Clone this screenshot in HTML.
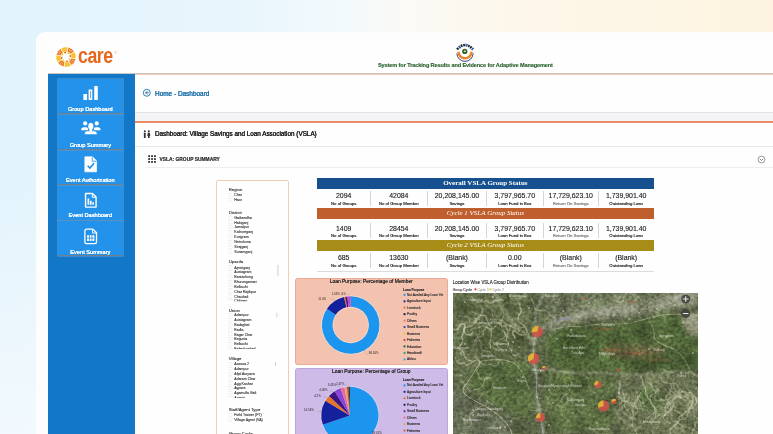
<!DOCTYPE html>
<html>
<head>
<meta charset="utf-8">
<title>VSLA Group Dashboard</title>
<style>
*{margin:0;padding:0;box-sizing:border-box}
html,body{width:773px;height:434px;overflow:hidden}
body{font-family:"Liberation Sans",sans-serif;position:relative;background:#eef5fa;color:#222;opacity:.9999}
.a{position:absolute}
.t{position:absolute;white-space:nowrap;line-height:1}
#bc,#dt,#st{-webkit-text-stroke:.2px currentColor}
#sys{-webkit-text-stroke:.15px #27602a}
.sl{-webkit-text-stroke:.15px #fff}
#bg{left:0;top:0;width:773px;height:434px;background:
 linear-gradient(180deg,rgba(255,255,255,0) 0%,rgba(255,255,255,0) 40%,rgba(255,255,255,.55) 100%),
 linear-gradient(90deg,#e2f3fc 0%,#e7f5fc 30%,#f1f9fd 42%,#fbfaf6 53%,#fdf7ea 66%,#fdf3e0 100%)}
#card{left:36px;top:32px;width:760px;height:420px;background:#fdfdfd;border-radius:9px 0 0 0}
#app{left:48px;top:43px;width:725px;height:391px;background:#fefefe}
#side{left:48px;top:74px;width:86.6px;height:360px;background:#1277c6}
.sb{position:absolute;left:57.6px;width:65.6px;height:34.6px;background:#2392ea;border-bottom:1.1px solid #6f7f8c;box-shadow:0 0 0 .6px #5a9bd6}
.sl{position:absolute;left:47.1px;width:86.5px;text-align:center;font-size:5.65px;color:#fff;line-height:1;white-space:nowrap;text-shadow:0 0 .3px #fff}
.hl{position:absolute;height:1px}
</style>
</head>
<body>
<div id="bg" class="a"></div>
<div id="card" class="a"></div>
<div id="app" class="a"></div>

<!-- header -->
<svg class="a" style="left:53.75px;top:45.1px" width="24" height="24" viewBox="-12 -12 24 24"><g id="carelogo" transform="rotate(12)"><path d="M0.51 -9.79 A9.8 9.8 0 0 1 6.56 -7.28 L3.75 -4.16 A5.6 5.6 0 0 0 0.29 -5.59 Z" fill="#e8711d"/><path d="M0.83 -5.23 A5.3 5.3 0 0 1 3.12 -4.29 L2.17 -2.99 A3.7 3.7 0 0 0 0.58 -3.65 Z" fill="#f6c42e"/><path d="M7.28 -6.56 A9.8 9.8 0 0 1 9.79 -0.51 L5.59 -0.29 A5.6 5.6 0 0 0 4.16 -3.75 Z" fill="#f6c42e"/><path d="M4.29 -3.12 A5.3 5.3 0 0 1 5.23 -0.83 L3.65 -0.58 A3.7 3.7 0 0 0 2.99 -2.17 Z" fill="#e8711d"/><path d="M9.79 0.51 A9.8 9.8 0 0 1 7.28 6.56 L4.16 3.75 A5.6 5.6 0 0 0 5.59 0.29 Z" fill="#e8711d"/><path d="M5.23 0.83 A5.3 5.3 0 0 1 4.29 3.12 L2.99 2.17 A3.7 3.7 0 0 0 3.65 0.58 Z" fill="#f6c42e"/><path d="M6.56 7.28 A9.8 9.8 0 0 1 0.51 9.79 L0.29 5.59 A5.6 5.6 0 0 0 3.75 4.16 Z" fill="#f6c42e"/><path d="M3.12 4.29 A5.3 5.3 0 0 1 0.83 5.23 L0.58 3.65 A3.7 3.7 0 0 0 2.17 2.99 Z" fill="#e8711d"/><path d="M-0.51 9.79 A9.8 9.8 0 0 1 -6.56 7.28 L-3.75 4.16 A5.6 5.6 0 0 0 -0.29 5.59 Z" fill="#e8711d"/><path d="M-0.83 5.23 A5.3 5.3 0 0 1 -3.12 4.29 L-2.17 2.99 A3.7 3.7 0 0 0 -0.58 3.65 Z" fill="#f6c42e"/><path d="M-7.28 6.56 A9.8 9.8 0 0 1 -9.79 0.51 L-5.59 0.29 A5.6 5.6 0 0 0 -4.16 3.75 Z" fill="#f6c42e"/><path d="M-4.29 3.12 A5.3 5.3 0 0 1 -5.23 0.83 L-3.65 0.58 A3.7 3.7 0 0 0 -2.99 2.17 Z" fill="#e8711d"/><path d="M-9.79 -0.51 A9.8 9.8 0 0 1 -7.28 -6.56 L-4.16 -3.75 A5.6 5.6 0 0 0 -5.59 -0.29 Z" fill="#e8711d"/><path d="M-5.23 -0.83 A5.3 5.3 0 0 1 -4.29 -3.12 L-2.99 -2.17 A3.7 3.7 0 0 0 -3.65 -0.58 Z" fill="#f6c42e"/><path d="M-6.56 -7.28 A9.8 9.8 0 0 1 -0.51 -9.79 L-0.29 -5.59 A5.6 5.6 0 0 0 -3.75 -4.16 Z" fill="#f6c42e"/><path d="M-3.12 -4.29 A5.3 5.3 0 0 1 -0.83 -5.23 L-0.58 -3.65 A3.7 3.7 0 0 0 -2.17 -2.99 Z" fill="#e8711d"/><path d="M1.76 -6.36 L2.65 -9.54" stroke="#fdf3e6" stroke-width=".55"/><path d="M3.25 -5.74 L4.87 -8.62" stroke="#fdf3e6" stroke-width=".55"/><path d="M6.36 1.76 L9.54 2.65" stroke="#fdf3e6" stroke-width=".55"/><path d="M5.74 3.25 L8.62 4.87" stroke="#fdf3e6" stroke-width=".55"/><path d="M-1.76 6.36 L-2.65 9.54" stroke="#fdf3e6" stroke-width=".55"/><path d="M-3.25 5.74 L-4.87 8.62" stroke="#fdf3e6" stroke-width=".55"/><path d="M-6.36 -1.76 L-9.54 -2.65" stroke="#fdf3e6" stroke-width=".55"/><path d="M-5.74 -3.25 L-8.62 -4.87" stroke="#fdf3e6" stroke-width=".55"/></g></svg>
<div class="t" style="left:77.8px;top:45.9px;font-size:21.4px;font-weight:bold;color:#e4691e;letter-spacing:-.6px;transform:scaleX(.83);transform-origin:0 0">care</div>
<div class="t" style="left:114.6px;top:52px;font-size:3px;color:#e8731f">®</div>

<svg class="a" style="left:454px;top:41.9px" width="22" height="20" viewBox="0 0 22 20">
 <path d="M2.9 10.4 A8.1 8.1 0 0 0 19.1 10.4" fill="none" stroke="#2a2a6a" stroke-width=".9" transform="translate(0 .9)"/>
 <path d="M3.2 9.8 A7.8 7.8 0 0 0 18.8 9.8 L16.3 9.8 A5.3 5.3 0 0 1 5.7 9.8 Z" fill="#ea8628"/>
 <circle cx="10.8" cy="9.4" r="2.6" fill="#35602a"/>
 <circle cx="10.9" cy="9.3" r="1" fill="#c9dcae"/>
 <path d="M3 7.4 Q11 -1.3 19 7.4" fill="none" stroke="#1b1b2a" stroke-width="2.5" stroke-dasharray="1.7 .8"/>
 <path d="M3 7.4 Q11 -1.3 19 7.4" fill="none" stroke="#2f6fc0" stroke-width="2.5" stroke-dasharray="1.7 5.8" stroke-dashoffset="-2.5"/>
</svg>
<div class="t" id="sys" style="left:377.5px;top:61.6px;font-size:6.2px;font-weight:bold;color:#27602a;letter-spacing:-.12px;transform:scaleX(.9);transform-origin:0 0">System for Tracking Results and Evidence for Adaptive Management</div>

<div class="hl" style="left:48px;top:72.8px;width:725px;height:1.8px;background:linear-gradient(180deg,#cfc9c6 0%,#d2c2ba 45%,#efc4b0 55%,#f3d3c4 100%)"></div>

<!-- sidebar -->
<div id="side" class="a"></div>

<div class="sb" style="top:79px"></div>
<svg class="a" style="left:77.8px;top:83.1px" width="26" height="20.8" viewBox="-10 -8 20 16"><rect x="-5.85" y=".46" width="2.85" height="4.62" rx=".35" fill="#fff"/><rect x="-1.85" y="-3.08" width="2.85" height="8.16" rx=".35" fill="#fff"/><rect x="-.75" y="-1.9" width=".5" height="5.8" fill="#2a7fd0"/><rect x="2.46" y="-5.7" width="2.8" height="10.78" rx=".35" fill="#fff"/></svg>
<div class="sl" style="top:106.7px">Group Dashboard</div>
<div class="sb" style="top:115px"></div>
<svg class="a" style="left:77.8px;top:118.3px" width="26" height="20.8" viewBox="-10 -8 20 16"><circle cx="-4.46" cy="-3.85" r="1.6" fill="#fff"/><circle cx="4.4" cy="-3.85" r="1.6" fill="#fff"/><path d="M-7.6 1.45 Q-7.6 -.9 -5.4 -.9 H-3.6 Q-2.2 -.9 -2.2 1.45 Z" fill="#fff"/><path d="M7.4 1.45 Q7.4 -.9 5.3 -.9 H3.5 Q2.1 -.9 2.1 1.45 Z" fill="#fff"/><ellipse cx="-.15" cy="-1.7" rx="2.05" ry="2.6" fill="#fff" stroke="#2392ea" stroke-width=".8"/><path d="M-5.2 4.9 Q-5.2 1.8 -2.6 1.8 H2.3 Q4.9 1.8 4.9 4.9 Z" fill="#fff" stroke="#2392ea" stroke-width=".7"/><ellipse cx="-.15" cy="-1.6" rx="1.95" ry="2.6" fill="#fff"/><rect x="-1.15" y=".4" width="2" height="2" fill="#fff"/></svg>
<div class="sl" style="top:142.7px">Group Summary</div>
<div class="sb" style="top:150.8px"></div>
<svg class="a" style="left:79.1px;top:154.65px" width="23.4" height="18.7" viewBox="-10 -8 20 16"><path d="M-5 -6.4 H1.6 L5 -3 V6.4 H-5 Z" fill="#fff" stroke="#fff" stroke-width=".6" stroke-linejoin="round"/><path d="M1.3 -6.2 V-2.7 H4.9" fill="none" stroke="#2392ea" stroke-width=".7"/><path d="M-2.6 1.2 L-.7 3.1 L2.9 -1" fill="none" stroke="#2290ea" stroke-width="1.4"/></svg>
<div class="sl" style="top:177.9px">Event Authorization</div>
<div class="sb" style="top:186.2px;height:34.5px"></div>
<svg class="a" style="left:79.1px;top:190.65px" width="23.4" height="18.7" viewBox="-10 -8 20 16"><path d="M-4.4 -5.8 H1.6 L4.6 -2.8 V5.8 H-4.4 Z" fill="none" stroke="#fff" stroke-width="1.2" stroke-linejoin="round"/><path d="M1.4 -5.8 V-2.6 H4.6" fill="none" stroke="#fff" stroke-width=".9"/><rect x="-2.7" y="-1.6" width="1.5" height="5.4" fill="#fff"/><rect x="-.6" y=".4" width="1.4" height="3.4" fill="#fff"/><rect x="1.4" y="1.6" width="1.4" height="2.2" fill="#fff"/></svg>
<div class="sl" style="top:213.1px">Event Dashboard</div>
<div class="sb" style="top:221.2px;height:34.4px"></div>
<svg class="a" style="left:79.1px;top:226.65px" width="23.4" height="18.7" viewBox="-10 -8 20 16"><path d="M-3.4 -6.2 H1.8 L5 -3 V4.6 Q5 6.2 3.4 6.2 H-3.4 Q-5 6.2 -5 4.6 V-4.6 Q-5 -6.2 -3.4 -6.2 Z" fill="none" stroke="#fff" stroke-width="1.1"/><path d="M1.6 -6 V-2.8 H4.8" fill="none" stroke="#fff" stroke-width=".8"/><rect x="-3.2" y="-1" width="6.4" height="5" rx=".6" fill="#fff"/><path d="M-3.2 1.5 H3.2 M-1.05 -1 V4 M1.05 -1 V4" stroke="#2392ea" stroke-width=".7"/></svg>
<div class="sl" style="top:249.9px">Event Summary</div>

<!-- main lines -->
<div class="hl" style="left:135px;top:112.3px;width:638px;background:#e3e3e6"></div>
<div class="a" style="left:135px;top:113.3px;width:638px;height:8px;background:#f4f4f6"></div>
<div class="hl" style="left:135px;top:120.6px;width:638px;height:2px;background:#e98c64"></div>
<div class="hl" style="left:135px;top:146.3px;width:638px;background:#e9e9ec"></div>
<div class="hl" style="left:146px;top:167.2px;width:627px;background:#eeeef0"></div>


<!-- breadcrumb -->
<svg class="a" style="left:141.9px;top:88.2px" width="9.6" height="9.6" viewBox="-4 -4 8 8"><circle r="2.9" fill="none" stroke="#2a78ad" stroke-width=".8"/><path d="M.4 -1.4 L-1 0 L.4 1.4 M-1 0 H1.7" fill="none" stroke="#2a78ad" stroke-width=".8"/></svg>
<div class="t" id="bc" style="left:155px;top:90.7px;font-size:6.45px;color:#2273ab;text-shadow:0 0 .35px #2273ab">Home - Dashboard</div>
<!-- dashboard title -->
<svg class="a" style="left:142.7px;top:130.2px" width="8" height="9" viewBox="0 0 8 9"><circle cx="1.8" cy="1.3" r="1" fill="#333"/><rect x=".9" y="2.7" width="1.8" height="5.4" rx=".5" fill="#333"/><circle cx="5.8" cy="1.3" r="1" fill="#333"/><path d="M4.7 2.7 H6.9 L7.3 6 H6.6 V8.1 H5 V6 H4.3 Z" fill="#333"/></svg>
<div class="t" id="dt" style="left:155px;top:131.1px;font-size:6.34px;color:#222;text-shadow:0 0 .3px #222">Dashboard: Village Savings and Loan Association (VSLA)</div>
<!-- section title -->
<svg class="a" style="left:147.6px;top:155.3px" width="8.6" height="8.6" viewBox="0 0 8 8"><g fill="#333"><rect x=".2" y=".2" width="1.7" height="1.7"/><rect x="2.9" y=".2" width="1.7" height="1.7"/><rect x="5.6" y=".2" width="1.7" height="1.7"/><rect x=".2" y="2.9" width="1.7" height="1.7"/><rect x="2.9" y="2.9" width="1.7" height="1.7"/><rect x="5.6" y="2.9" width="1.7" height="1.7"/><rect x=".2" y="5.6" width="1.7" height="1.7"/><rect x="2.9" y="5.6" width="1.7" height="1.7"/><rect x="5.6" y="5.6" width="1.7" height="1.7"/></g></svg>
<div class="t" id="st" style="left:159.5px;top:157.5px;font-size:4.9px;font-weight:bold;color:#2a2a2a">VSLA: GROUP SUMMARY</div>
<svg class="a" style="left:756.5px;top:154.5px" width="9" height="9" viewBox="-4.5 -4.5 9 9"><circle r="3.4" fill="none" stroke="#555" stroke-width=".6"/><path d="M-1.6 -.6 L0 1 L1.6 -.6" fill="none" stroke="#555" stroke-width=".7"/></svg>


<!-- table -->
<style>.bar{position:absolute;left:317px;width:336.7px;color:#fff;font-family:"Liberation Serif",serif;font-size:7px;text-align:center;white-space:nowrap}.num{position:absolute;text-align:center;font-size:6.95px;color:#1a1a1a;line-height:1;white-space:nowrap;text-shadow:0 0 .12px #222}.lab{position:absolute;text-align:center;font-size:4.2px;color:#222;line-height:1;white-space:nowrap;text-shadow:0 0 .3px currentColor}.vs{position:absolute;width:.8px;background:#d4d4d4}</style>
<div class="bar" style="top:177.8px;height:11.1px;line-height:11.1px;background:#16508f;font-weight:bold">Overall VSLA Group Status</div>






<div class="vs" style="left:370.0px;top:191.2px;height:14.5px"></div><div class="vs" style="left:426.9px;top:191.2px;height:14.5px"></div><div class="vs" style="left:486.2px;top:191.2px;height:14.5px"></div><div class="vs" style="left:542.6px;top:191.2px;height:14.5px"></div><div class="vs" style="left:598.2px;top:191.2px;height:14.5px"></div>
<div class="bar" style="top:208.3px;height:11.0px;line-height:11.0px;background:#bf5f2d;font-style:italic">Cycle 1 VSLA Group Status</div>






<div class="vs" style="left:370.0px;top:223px;height:14.8px"></div><div class="vs" style="left:426.9px;top:223px;height:14.8px"></div><div class="vs" style="left:486.2px;top:223px;height:14.8px"></div><div class="vs" style="left:542.6px;top:223px;height:14.8px"></div><div class="vs" style="left:598.2px;top:223px;height:14.8px"></div>
<div class="bar" style="top:239.9px;height:11.6px;line-height:11.6px;background:#a78c18;font-style:italic">Cycle 2 VSLA Group Status</div>






<div class="vs" style="left:370.0px;top:253.3px;height:15.0px"></div><div class="vs" style="left:426.9px;top:253.3px;height:15.0px"></div><div class="vs" style="left:486.2px;top:253.3px;height:15.0px"></div><div class="vs" style="left:542.6px;top:253.3px;height:15.0px"></div><div class="vs" style="left:598.2px;top:253.3px;height:15.0px"></div>
<svg class="a" style="left:316px;top:198px" width="340" height="72" viewBox="316 198 340 72" font-family="Liberation Sans, sans-serif" font-size="4.25" text-anchor="middle">
<text x="343.70" y="204.92" fill="#222" stroke="#222" stroke-width=".16">No of Groups</text><text x="398.85" y="204.92" fill="#222" stroke="#222" stroke-width=".16">No of Group Member</text><text x="456.95" y="204.92" fill="#222" stroke="#222" stroke-width=".17">Savings</text><text x="514.80" y="204.92" fill="#222" stroke="#222" stroke-width=".17">Loan Fund in Box</text><text x="570.80" y="204.92" fill="#777" stroke="#777" stroke-width=".17">Return On Savings</text><text x="626.15" y="204.92" fill="#222" stroke="#222" stroke-width=".17">Outstanding Loan</text>
<text x="343.70" y="237.32" fill="#222" stroke="#222" stroke-width=".16">No of Groups</text><text x="398.85" y="237.32" fill="#222" stroke="#222" stroke-width=".16">No of Group Member</text><text x="456.95" y="237.32" fill="#222" stroke="#222" stroke-width=".17">Savings</text><text x="514.80" y="237.32" fill="#222" stroke="#222" stroke-width=".17">Loan Fund in Box</text><text x="570.80" y="237.32" fill="#777" stroke="#777" stroke-width=".17">Return On Savings</text><text x="626.15" y="237.32" fill="#222" stroke="#222" stroke-width=".17">Outstanding Loan</text>
<text x="343.70" y="267.02" fill="#222" stroke="#222" stroke-width=".16">No of Groups</text><text x="398.85" y="267.02" fill="#222" stroke="#222" stroke-width=".16">No of Group Member</text><text x="456.95" y="267.02" fill="#222" stroke="#222" stroke-width=".17">Savings</text><text x="514.80" y="267.02" fill="#222" stroke="#222" stroke-width=".17">Loan Fund in Box</text><text x="570.80" y="267.02" fill="#777" stroke="#777" stroke-width=".17">Return On Savings</text><text x="626.15" y="267.02" fill="#222" stroke="#222" stroke-width=".17">Outstanding Loan</text>
</svg>
<svg class="a" style="left:316px;top:188px" width="340" height="76" viewBox="316 188 340 76" font-family="Liberation Sans, sans-serif" font-size="6.95" text-anchor="middle" fill="#1a1a1a">
<text x="343.70" y="198.39" stroke="#1a1a1a" stroke-width=".12">2094</text><text x="398.85" y="198.39" stroke="#1a1a1a" stroke-width=".12">42084</text><text x="456.95" y="198.39" stroke="#1a1a1a" stroke-width=".12">20,208,145.00</text><text x="514.80" y="198.39" stroke="#1a1a1a" stroke-width=".12">3,797,965.70</text><text x="570.80" y="198.39" stroke="#1a1a1a" stroke-width=".12">17,729,623.10</text><text x="626.15" y="198.39" stroke="#1a1a1a" stroke-width=".12">1,739,901.40</text>
<text x="343.70" y="230.69" stroke="#1a1a1a" stroke-width=".12">1409</text><text x="398.85" y="230.69" stroke="#1a1a1a" stroke-width=".12">28454</text><text x="456.95" y="230.69" stroke="#1a1a1a" stroke-width=".12">20,208,145.00</text><text x="514.80" y="230.69" stroke="#1a1a1a" stroke-width=".12">3,797,965.70</text><text x="570.80" y="230.69" stroke="#1a1a1a" stroke-width=".12">17,729,623.10</text><text x="626.15" y="230.69" stroke="#1a1a1a" stroke-width=".12">1,739,901.40</text>
<text x="343.70" y="259.99" stroke="#1a1a1a" stroke-width=".12">685</text><text x="398.85" y="259.99" stroke="#1a1a1a" stroke-width=".12">13630</text><text x="456.95" y="259.99" stroke="#1a1a1a" stroke-width=".12">(Blank)</text><text x="514.80" y="259.99" stroke="#1a1a1a" stroke-width=".12">0.00</text><text x="570.80" y="259.99" stroke="#1a1a1a" stroke-width=".12">(Blank)</text><text x="626.15" y="259.99" stroke="#1a1a1a" stroke-width=".12">(Blank)</text>
</svg>
<div class="hl" style="left:317px;top:270.6px;width:336.7px;background:#dcdcdc"></div>


<!-- filter panel -->
<div class="a" style="left:216.4px;top:180.3px;width:72.2px;height:270px;border:1.2px solid #f2cbb5;border-radius:2px;background:#fefefe"></div>
<svg class="a" style="left:216px;top:178px" width="76" height="256" viewBox="216 178 76 256" font-family="Liberation Sans, sans-serif">
<text x="228.7" y="190.93" font-size="4.3" fill="#222" stroke="#222" stroke-width=".08">Region</text>
<rect x="228.9" y="193.30" width="3.1" height="3.1" fill="#fff" stroke="#dcdcdc" stroke-width=".35"/><text x="234.3" y="196.00" font-size="3.55" fill="#333" stroke="#333" stroke-width=".1">Char</text>
<rect x="228.9" y="198.14" width="3.1" height="3.1" fill="#fff" stroke="#dcdcdc" stroke-width=".35"/><text x="234.3" y="200.84" font-size="3.55" fill="#333" stroke="#333" stroke-width=".1">Haor</text>
<text x="228.7" y="214.03" font-size="4.3" fill="#222" stroke="#222" stroke-width=".08">District</text>
<rect x="228.9" y="216.10" width="3.1" height="3.1" fill="#fff" stroke="#dcdcdc" stroke-width=".35"/><text x="234.3" y="218.80" font-size="3.55" fill="#333" stroke="#333" stroke-width=".1">Gaibandha</text>
<rect x="228.9" y="220.94" width="3.1" height="3.1" fill="#fff" stroke="#dcdcdc" stroke-width=".35"/><text x="234.3" y="223.64" font-size="3.55" fill="#333" stroke="#333" stroke-width=".1">Habiganj</text>
<rect x="228.9" y="225.78" width="3.1" height="3.1" fill="#fff" stroke="#dcdcdc" stroke-width=".35"/><text x="234.3" y="228.48" font-size="3.55" fill="#333" stroke="#333" stroke-width=".1">Jamalpur</text>
<rect x="228.9" y="230.62" width="3.1" height="3.1" fill="#fff" stroke="#dcdcdc" stroke-width=".35"/><text x="234.3" y="233.32" font-size="3.55" fill="#333" stroke="#333" stroke-width=".1">Kishoreganj</text>
<rect x="228.9" y="235.46" width="3.1" height="3.1" fill="#fff" stroke="#dcdcdc" stroke-width=".35"/><text x="234.3" y="238.16" font-size="3.55" fill="#333" stroke="#333" stroke-width=".1">Kurigram</text>
<rect x="228.9" y="240.30" width="3.1" height="3.1" fill="#fff" stroke="#dcdcdc" stroke-width=".35"/><text x="234.3" y="243.00" font-size="3.55" fill="#333" stroke="#333" stroke-width=".1">Netrokona</text>
<rect x="228.9" y="245.14" width="3.1" height="3.1" fill="#fff" stroke="#dcdcdc" stroke-width=".35"/><text x="234.3" y="247.84" font-size="3.55" fill="#333" stroke="#333" stroke-width=".1">Sirajganj</text>
<rect x="228.9" y="249.98" width="3.1" height="3.1" fill="#fff" stroke="#dcdcdc" stroke-width=".35"/><text x="234.3" y="252.68" font-size="3.55" fill="#333" stroke="#333" stroke-width=".1">Sunamganj</text>
<text x="228.7" y="263.33" font-size="4.3" fill="#222" stroke="#222" stroke-width=".08">Upazila</text>
<rect x="228.9" y="265.80" width="3.1" height="3.1" fill="#fff" stroke="#dcdcdc" stroke-width=".35"/><text x="234.3" y="268.50" font-size="3.55" fill="#333" stroke="#333" stroke-width=".1">Ajmiriganj</text>
<rect x="228.9" y="270.64" width="3.1" height="3.1" fill="#fff" stroke="#dcdcdc" stroke-width=".35"/><text x="234.3" y="273.34" font-size="3.55" fill="#333" stroke="#333" stroke-width=".1">Austagram</text>
<rect x="228.9" y="275.48" width="3.1" height="3.1" fill="#fff" stroke="#dcdcdc" stroke-width=".35"/><text x="234.3" y="278.18" font-size="3.55" fill="#333" stroke="#333" stroke-width=".1">Baniachong</text>
<rect x="228.9" y="280.32" width="3.1" height="3.1" fill="#fff" stroke="#dcdcdc" stroke-width=".35"/><text x="234.3" y="283.02" font-size="3.55" fill="#333" stroke="#333" stroke-width=".1">Bhurungamari</text>
<rect x="228.9" y="285.16" width="3.1" height="3.1" fill="#fff" stroke="#dcdcdc" stroke-width=".35"/><text x="234.3" y="287.86" font-size="3.55" fill="#333" stroke="#333" stroke-width=".1">Belkuchi</text>
<rect x="228.9" y="290.00" width="3.1" height="3.1" fill="#fff" stroke="#dcdcdc" stroke-width=".35"/><text x="234.3" y="292.70" font-size="3.55" fill="#333" stroke="#333" stroke-width=".1">Char Rajibpur</text>
<rect x="228.9" y="294.84" width="3.1" height="3.1" fill="#fff" stroke="#dcdcdc" stroke-width=".35"/><text x="234.3" y="297.54" font-size="3.55" fill="#333" stroke="#333" stroke-width=".1">Chauhali</text>
<clipPath id="fc1"><rect x="226" y="298.28" width="60" height="3.0"/></clipPath><g clip-path="url(#fc1)"><rect x="228.9" y="299.68" width="3.1" height="3.1" fill="#fff" stroke="#dcdcdc" stroke-width=".35"/><text x="234.3" y="302.38" font-size="3.55" fill="#333" stroke="#333" stroke-width=".1">Chilmari</text></g>
<text x="228.7" y="311.53" font-size="4.3" fill="#222" stroke="#222" stroke-width=".08">Union</text>
<rect x="228.9" y="313.30" width="3.1" height="3.1" fill="#fff" stroke="#dcdcdc" stroke-width=".35"/><text x="234.3" y="316.00" font-size="3.55" fill="#333" stroke="#333" stroke-width=".1">Adampur</text>
<rect x="228.9" y="318.18" width="3.1" height="3.1" fill="#fff" stroke="#dcdcdc" stroke-width=".35"/><text x="234.3" y="320.88" font-size="3.55" fill="#333" stroke="#333" stroke-width=".1">Austagram</text>
<rect x="228.9" y="323.06" width="3.1" height="3.1" fill="#fff" stroke="#dcdcdc" stroke-width=".35"/><text x="234.3" y="325.76" font-size="3.55" fill="#333" stroke="#333" stroke-width=".1">Badaghat</text>
<rect x="228.9" y="327.94" width="3.1" height="3.1" fill="#fff" stroke="#dcdcdc" stroke-width=".35"/><text x="234.3" y="330.64" font-size="3.55" fill="#333" stroke="#333" stroke-width=".1">Badla</text>
<rect x="228.9" y="332.82" width="3.1" height="3.1" fill="#fff" stroke="#dcdcdc" stroke-width=".35"/><text x="234.3" y="335.52" font-size="3.55" fill="#333" stroke="#333" stroke-width=".1">Bagar Char</text>
<rect x="228.9" y="337.70" width="3.1" height="3.1" fill="#fff" stroke="#dcdcdc" stroke-width=".35"/><text x="234.3" y="340.40" font-size="3.55" fill="#333" stroke="#333" stroke-width=".1">Begunia</text>
<rect x="228.9" y="342.58" width="3.1" height="3.1" fill="#fff" stroke="#dcdcdc" stroke-width=".35"/><text x="234.3" y="345.28" font-size="3.55" fill="#333" stroke="#333" stroke-width=".1">Belkuchi</text>
<clipPath id="fc2"><rect x="226" y="346.06" width="60" height="3.0"/></clipPath><g clip-path="url(#fc2)"><rect x="228.9" y="347.46" width="3.1" height="3.1" fill="#fff" stroke="#dcdcdc" stroke-width=".35"/><text x="234.3" y="350.16" font-size="3.55" fill="#333" stroke="#333" stroke-width=".1">Bahadurabad</text></g>
<text x="228.7" y="360.43" font-size="4.3" fill="#222" stroke="#222" stroke-width=".08">Village</text>
<rect x="228.9" y="362.50" width="3.1" height="3.1" fill="#fff" stroke="#dcdcdc" stroke-width=".35"/><text x="234.3" y="365.20" font-size="3.55" fill="#333" stroke="#333" stroke-width=".1">Asasua 2</text>
<rect x="228.9" y="367.35" width="3.1" height="3.1" fill="#fff" stroke="#dcdcdc" stroke-width=".35"/><text x="234.3" y="370.05" font-size="3.55" fill="#333" stroke="#333" stroke-width=".1">Adampur</text>
<rect x="228.9" y="372.20" width="3.1" height="3.1" fill="#fff" stroke="#dcdcdc" stroke-width=".35"/><text x="234.3" y="374.90" font-size="3.55" fill="#333" stroke="#333" stroke-width=".1">Afjal Aurpara</text>
<rect x="228.9" y="377.05" width="3.1" height="3.1" fill="#fff" stroke="#dcdcdc" stroke-width=".35"/><text x="234.3" y="379.75" font-size="3.55" fill="#333" stroke="#333" stroke-width=".1">Adaram Char</text>
<rect x="228.9" y="381.90" width="3.1" height="3.1" fill="#fff" stroke="#dcdcdc" stroke-width=".35"/><text x="234.3" y="384.60" font-size="3.55" fill="#333" stroke="#333" stroke-width=".1">Agg Kashar</text>
<rect x="228.9" y="386.75" width="3.1" height="3.1" fill="#fff" stroke="#dcdcdc" stroke-width=".35"/><text x="234.3" y="389.45" font-size="3.55" fill="#333" stroke="#333" stroke-width=".1">Aypara</text>
<rect x="228.9" y="391.60" width="3.1" height="3.1" fill="#fff" stroke="#dcdcdc" stroke-width=".35"/><text x="234.3" y="394.30" font-size="3.55" fill="#333" stroke="#333" stroke-width=".1">Agamulla Gali</text>
<clipPath id="fc3"><rect x="226" y="395.05" width="60" height="3.0"/></clipPath><g clip-path="url(#fc3)"><rect x="228.9" y="396.45" width="3.1" height="3.1" fill="#fff" stroke="#dcdcdc" stroke-width=".35"/><text x="234.3" y="399.15" font-size="3.55" fill="#333" stroke="#333" stroke-width=".1">Azimiri</text></g>
<text x="228.7" y="411.23" font-size="4.3" fill="#222" stroke="#222" stroke-width=".08">Staff/Agent Type</text>
<rect x="228.9" y="413.30" width="3.1" height="3.1" fill="#fff" stroke="#dcdcdc" stroke-width=".35"/><text x="234.3" y="416.00" font-size="3.55" fill="#333" stroke="#333" stroke-width=".1">Field Trainer (FT)</text>
<rect x="228.9" y="418.14" width="3.1" height="3.1" fill="#fff" stroke="#dcdcdc" stroke-width=".35"/><text x="234.3" y="420.84" font-size="3.55" fill="#333" stroke="#333" stroke-width=".1">Village Agent (VA)</text>
<text x="228.7" y="435.03" font-size="4.3" fill="#222" stroke="#222" stroke-width=".08">Group Cycle</text>
<rect x="228.9" y="437.10" width="3.1" height="3.1" fill="#fff" stroke="#dcdcdc" stroke-width=".35"/><text x="234.3" y="439.80" font-size="3.55" fill="#333" stroke="#333" stroke-width=".1">Cycle 1</text>
<rect x="277.3" y="264.7" width="1.2" height="11.7" rx=".6" fill="#d6d6d6"/><rect x="276.4" y="312.7" width=".9" height="4.6" fill="#cfcfcf"/><rect x="275.2" y="362" width=".8" height="3.9" fill="#e0b4ba"/>
</svg>

<!-- charts -->
<style>.lg{position:absolute;left:406.8px;font-size:3.75px;color:#222;line-height:1;white-space:nowrap;text-shadow:0 0 .25px #222;transform:scaleX(.865);transform-origin:0 50%}.ld{position:absolute;left:403.4px;width:2.3px;height:2.3px;border-radius:50%}.pl{position:absolute;font-size:2.9px;color:#1f1f1f;line-height:1;white-space:nowrap}</style>
<div class="a" style="left:295px;top:277.6px;width:152.6px;height:87.9px;background:#f4c3b0;border:.7px solid #e9ab93;border-radius:2.5px"></div>
<div class="t" style="left:295px;width:152.6px;text-align:center;top:279.5px;font-size:4.9px;color:#222;text-shadow:0 0 .2px #222">Loan Purpose: Percentage of Member</div>
<svg class="a" style="left:295px;top:277px" width="153" height="90" viewBox="295 277 153 90"><circle cx="350.7" cy="325.0" r="29" fill="none" stroke="#fbe3d8" stroke-width="1"/><circle cx="350.7" cy="325.0" r="17.9" fill="none" stroke="#fbe3d8" stroke-width=".8"/><path d="M350.70 296.20 A28.8 28.8 0 1 1 326.97 308.69 L335.70 314.69 A18.2 18.2 0 1 0 350.70 306.80 Z" fill="#1c95ef"/><path d="M326.97 308.69 A28.8 28.8 0 0 1 343.98 297.00 L346.45 307.30 A18.2 18.2 0 0 0 335.70 314.69 Z" fill="#15209c"/><path d="M343.98 297.00 A28.8 28.8 0 0 1 345.11 296.75 L347.16 307.15 A18.2 18.2 0 0 0 346.45 307.30 Z" fill="#e8742a"/><path d="M345.11 296.75 A28.8 28.8 0 0 1 347.29 296.40 L348.55 306.93 A18.2 18.2 0 0 0 347.16 307.15 Z" fill="#4a1a80"/><path d="M347.29 296.40 A28.8 28.8 0 0 1 350.70 296.20 L350.70 306.80 A18.2 18.2 0 0 0 348.55 306.93 Z" fill="#b54fd0"/><path d="M335 300.2 L332.6 299 H330.2 M349.4 296.2 L348.8 294.2 H347 M364.5 350.6 L366 353.9 H367.6" fill="none" stroke="#8a8a8a" stroke-width=".3"/></svg>
<div class="pl" style="left:318.2px;top:297.5px">11.4%</div><div class="pl" style="left:331.7px;top:292.5px">1.03%</div><div class="pl" style="left:340.8px;top:292.5px">.6%</div><div class="pl" style="left:368.8px;top:352.2px">86.56%</div>
<svg class="a" style="left:403.0px;top:286.50px;overflow:visible" width="50" height="6"><text x="0" y="4.13" font-size="3.7" font-weight="bold" fill="#222" stroke="#222" stroke-width=".12" transform="scale(.865,1)">Loan Purpose</text></svg>
<svg class="a" style="left:406.8px;top:291.85px;overflow:visible" width="50" height="6"><text x="0" y="4.17" font-size="3.75"  fill="#222" stroke="#222" stroke-width=".12" transform="scale(.865,1)">Not Availed Any Loan Yet</text></svg><svg class="a" style="left:406.8px;top:298.31px;overflow:visible" width="50" height="6"><text x="0" y="4.17" font-size="3.75"  fill="#222" stroke="#222" stroke-width=".12" transform="scale(.865,1)">Agriculture Input</text></svg><svg class="a" style="left:406.8px;top:304.77px;overflow:visible" width="50" height="6"><text x="0" y="4.17" font-size="3.75"  fill="#222" stroke="#222" stroke-width=".12" transform="scale(.865,1)">Livestock</text></svg><svg class="a" style="left:406.8px;top:311.23px;overflow:visible" width="50" height="6"><text x="0" y="4.17" font-size="3.75"  fill="#222" stroke="#222" stroke-width=".12" transform="scale(.865,1)">Poultry</text></svg><svg class="a" style="left:406.8px;top:317.69px;overflow:visible" width="50" height="6"><text x="0" y="4.17" font-size="3.75"  fill="#222" stroke="#222" stroke-width=".12" transform="scale(.865,1)">Others</text></svg><svg class="a" style="left:406.8px;top:324.15px;overflow:visible" width="50" height="6"><text x="0" y="4.17" font-size="3.75"  fill="#222" stroke="#222" stroke-width=".12" transform="scale(.865,1)">Small Business</text></svg><svg class="a" style="left:406.8px;top:330.61px;overflow:visible" width="50" height="6"><text x="0" y="4.17" font-size="3.75"  fill="#222" stroke="#222" stroke-width=".12" transform="scale(.865,1)">Business</text></svg><svg class="a" style="left:406.8px;top:337.07px;overflow:visible" width="50" height="6"><text x="0" y="4.17" font-size="3.75"  fill="#222" stroke="#222" stroke-width=".12" transform="scale(.865,1)">Fisheries</text></svg><svg class="a" style="left:406.8px;top:343.53px;overflow:visible" width="50" height="6"><text x="0" y="4.17" font-size="3.75"  fill="#222" stroke="#222" stroke-width=".12" transform="scale(.865,1)">Education</text></svg><svg class="a" style="left:406.8px;top:349.99px;overflow:visible" width="50" height="6"><text x="0" y="4.17" font-size="3.75"  fill="#222" stroke="#222" stroke-width=".12" transform="scale(.865,1)">Handicraft</text></svg><svg class="a" style="left:406.8px;top:356.45px;overflow:visible" width="50" height="6"><text x="0" y="4.17" font-size="3.75"  fill="#222" stroke="#222" stroke-width=".12" transform="scale(.865,1)">Akhoc</text></svg>
<div class="a" style="left:295px;top:368.2px;width:152.6px;height:80px;background:#cfbbe8;border:.7px solid #bda5dc;border-radius:2.5px"></div>
<div class="t" style="left:295px;width:152.6px;text-align:center;top:369.6px;font-size:4.9px;color:#222;text-shadow:0 0 .2px #222">Loan Purpose: Percentage of Group</div>
<svg class="a" style="left:295px;top:368.5px" width="153" height="66" viewBox="295 368 153 66"><circle cx="349.9" cy="414.4" r="29.2" fill="#e6dcf3"/><path d="M349.9 414.4 L349.90 385.80 A28.6 28.6 0 1 1 322.86 423.71 Z" fill="#1c95ef"/><path d="M349.9 414.4 L322.86 423.71 A28.6 28.6 0 0 1 325.39 399.67 Z" fill="#15209c"/><path d="M349.9 414.4 L325.39 399.67 A28.6 28.6 0 0 1 328.98 394.89 Z" fill="#e8742a"/><path d="M349.9 414.4 L328.98 394.89 A28.6 28.6 0 0 1 334.74 390.15 Z" fill="#3c1580"/><path d="M349.9 414.4 L334.74 390.15 A28.6 28.6 0 0 1 340.59 387.36 Z" fill="#8a44d8"/><path d="M349.9 414.4 L340.59 387.36 A28.6 28.6 0 0 1 344.44 386.33 Z" fill="#e86aa0"/><path d="M349.9 414.4 L344.44 386.33 A28.6 28.6 0 0 1 346.91 385.96 Z" fill="#f0a070"/><path d="M349.9 414.4 L346.91 385.96 A28.6 28.6 0 0 1 348.65 385.83 Z" fill="#a0522d"/><path d="M349.9 414.4 L348.65 385.83 A28.6 28.6 0 0 1 349.90 385.80 Z" fill="#222"/><path d="M321.6 410.5 H317 M328.5 396.6 L326 396.2 H323.2 M334 391 L331.8 390.2 H329.4 M340.6 387.4 L339 385.2 H337.3 M347 386.4 L346.6 384.4 H345.2" fill="none" stroke="#888" stroke-width=".3"/></svg>
<div class="pl" style="left:304px;top:409.4px">14.56%</div><div class="pl" style="left:314.2px;top:394.7px">4.2%</div><div class="pl" style="left:319.3px;top:388.7px">4.08%</div><div class="pl" style="left:327.8px;top:383.5px">3.43%</div><div class="pl" style="left:336px;top:382.8px">2.47%</div><div class="pl" style="left:372px;top:431.6px">69.02%</div>
<svg class="a" style="left:403.0px;top:376.90px;overflow:visible" width="50" height="6"><text x="0" y="4.13" font-size="3.7" font-weight="bold" fill="#222" stroke="#222" stroke-width=".12" transform="scale(.865,1)">Loan Purpose</text></svg>
<svg class="a" style="left:406.8px;top:382.45px;overflow:visible" width="50" height="6"><text x="0" y="4.17" font-size="3.75"  fill="#222" stroke="#222" stroke-width=".12" transform="scale(.865,1)">Not Availed Any Loan Yet</text></svg><svg class="a" style="left:406.8px;top:388.91px;overflow:visible" width="50" height="6"><text x="0" y="4.17" font-size="3.75"  fill="#222" stroke="#222" stroke-width=".12" transform="scale(.865,1)">Agriculture Input</text></svg><svg class="a" style="left:406.8px;top:395.37px;overflow:visible" width="50" height="6"><text x="0" y="4.17" font-size="3.75"  fill="#222" stroke="#222" stroke-width=".12" transform="scale(.865,1)">Livestock</text></svg><svg class="a" style="left:406.8px;top:401.83px;overflow:visible" width="50" height="6"><text x="0" y="4.17" font-size="3.75"  fill="#222" stroke="#222" stroke-width=".12" transform="scale(.865,1)">Poultry</text></svg><svg class="a" style="left:406.8px;top:408.29px;overflow:visible" width="50" height="6"><text x="0" y="4.17" font-size="3.75"  fill="#222" stroke="#222" stroke-width=".12" transform="scale(.865,1)">Small Business</text></svg><svg class="a" style="left:406.8px;top:414.75px;overflow:visible" width="50" height="6"><text x="0" y="4.17" font-size="3.75"  fill="#222" stroke="#222" stroke-width=".12" transform="scale(.865,1)">Others</text></svg><svg class="a" style="left:406.8px;top:421.21px;overflow:visible" width="50" height="6"><text x="0" y="4.17" font-size="3.75"  fill="#222" stroke="#222" stroke-width=".12" transform="scale(.865,1)">Business</text></svg><svg class="a" style="left:406.8px;top:427.67px;overflow:visible" width="50" height="6"><text x="0" y="4.17" font-size="3.75"  fill="#222" stroke="#222" stroke-width=".12" transform="scale(.865,1)">Fisheries</text></svg>


<svg class="a" style="left:400px;top:290px" width="10" height="144" viewBox="400 290 10 144"><circle cx="404.55" cy="294.80" r="1.12" fill="#1c95ef"/><circle cx="404.55" cy="301.26" r="1.12" fill="#15209c"/><circle cx="404.55" cy="307.72" r="1.12" fill="#e8742a"/><circle cx="404.55" cy="314.18" r="1.12" fill="#1d1666"/><circle cx="404.55" cy="320.64" r="1.12" fill="#ee7a6e"/><circle cx="404.55" cy="327.10" r="1.12" fill="#3a3fc4"/><circle cx="404.55" cy="333.56" r="1.12" fill="#e9c61f"/><circle cx="404.55" cy="340.02" r="1.12" fill="#c9431f"/><circle cx="404.55" cy="346.48" r="1.12" fill="#1d6a3c"/><circle cx="404.55" cy="352.94" r="1.12" fill="#2fa364"/><circle cx="404.55" cy="359.40" r="1.12" fill="#3aa3ee"/><circle cx="404.55" cy="385.40" r="1.12" fill="#1c95ef"/><circle cx="404.55" cy="391.86" r="1.12" fill="#15209c"/><circle cx="404.55" cy="398.32" r="1.12" fill="#e8742a"/><circle cx="404.55" cy="404.78" r="1.12" fill="#1d1666"/><circle cx="404.55" cy="411.24" r="1.12" fill="#7a2ea0"/><circle cx="404.55" cy="417.70" r="1.12" fill="#e86aa0"/><circle cx="404.55" cy="424.16" r="1.12" fill="#f0a94a"/><circle cx="404.55" cy="430.62" r="1.12" fill="#e8562a"/></svg>
<!-- map -->
<svg class="a" style="left:450px;top:276px" width="120" height="16" viewBox="450 276 120 16" font-family="Liberation Sans, sans-serif">
<text transform="translate(452.8 283.9) scale(.9 1)" font-size="4.85" fill="#222" stroke="#222" stroke-width=".12">Location Wise VSLA Group Distribution</text>
<text transform="translate(452.8 290.5) scale(.86 1)" font-size="4" fill="#333" stroke="#333" stroke-width=".1">Group Cycle</text>
<circle cx="475.4" cy="289.3" r="1.15" fill="#d9432f"/>
<text transform="translate(477.4 290.5) scale(.86 1)" font-size="4" fill="#777">Cycle 1</text>
<circle cx="490.4" cy="289.3" r="1.15" fill="#e8c531"/>
<text transform="translate(492.4 290.5) scale(.86 1)" font-size="4" fill="#777">Cycle 2</text>
</svg>
<!--MAPSVG-->
<svg class="a" id="map" style="left:452.7px;top:292.7px" width="245.4" height="141.4" viewBox="0 0 245.4 141.4">
<defs>
<filter id="bl" x="-20%" y="-20%" width="140%" height="140%"><feGaussianBlur stdDeviation="2.6"/></filter>
<filter id="bs" x="-20%" y="-20%" width="140%" height="140%"><feGaussianBlur stdDeviation="1"/></filter>
<filter id="bt" x="-5%" y="-5%" width="110%" height="110%"><feGaussianBlur stdDeviation=".42"/></filter>
<filter id="tex" x="0" y="0" width="100%" height="100%" color-interpolation-filters="sRGB">
<feTurbulence type="fractalNoise" baseFrequency=".05" numOctaves="2" seed="7" result="t1"/>
<feColorMatrix in="t1" type="matrix" values=".34 0 0 0 .33  .34 0 0 0 .33  .34 0 0 0 .33  0 0 0 0 1" result="g1"/>
<feTurbulence type="fractalNoise" baseFrequency=".28 .32" numOctaves="3" seed="23" result="t3"/>
<feColorMatrix in="t3" type="matrix" values="0 0 .42 0 .29  0 0 .42 0 .29  0 0 .42 0 .29  0 0 0 0 1" result="g3"/>
<feBlend in="g1" in2="SourceGraphic" mode="overlay" result="b1"/>
<feBlend in="g3" in2="b1" mode="overlay" result="b3"/>
<feComposite in="b3" in2="SourceGraphic" operator="in"/>
</filter>
<clipPath id="mc"><rect width="245.4" height="141.4"/></clipPath>
</defs>
<g clip-path="url(#mc)">
<g filter="url(#tex)">
<rect width="245.4" height="141.4" fill="#5c6647"/>
<g filter="url(#bl)">
<path d="M-10 -10 H60 L82 36 L78 76 L30 80 L-10 74 Z" fill="#616a4a"/>
<path d="M22 30 Q40 24 56 34 Q62 50 50 60 Q30 62 22 50 Z" fill="#566341"/>
<path d="M4 8 Q14 4 22 12 Q20 22 8 22 Z M44 8 Q58 6 62 18 Q54 26 44 20 Z M6 40 Q16 36 20 46 Q14 56 4 52 Z M60 40 Q72 40 74 52 Q66 58 58 52 Z" fill="#52603c"/>
<path d="M90 -10 H260 V4 Q220 10 190 14 Q150 20 120 24 Q100 28 90 34 Z" fill="#6c7459"/>
<path d="M92 36 Q104 25 124 19 Q160 13 190 10 Q214 4 236 -3 H252 V10 Q224 14 196 20 Q160 25 124 28 Q104 33 96 40 Z" fill="#92957e"/>
<path d="M96 38 Q120 30 150 32 Q176 30 196 26 Q214 20 250 20 V76 Q230 80 200 77 Q170 82 140 78 Q110 78 98 73 Q92 56 96 38 Z" fill="#4f6437"/>
<path d="M104 44 Q130 38 150 44 Q146 60 116 64 Q102 58 104 44 Z" fill="#475c31"/>
<path d="M150 54 Q180 48 214 56 Q204 68 160 64 Z" fill="#66643f"/>
<path d="M230 20 H252 V42 H238 Q228 34 230 20 Z" fill="#8f9076"/>
<path d="M28 68 Q54 64 74 70 L80 96 L78 128 Q60 120 46 112 Q30 104 16 92 Q20 78 28 68 Z" fill="#596c3f"/>
<path d="M-10 96 Q10 96 24 108 Q40 118 56 124 L60 150 H-10 Z" fill="#687058"/>
<path d="M92 80 Q130 78 162 84 L158 134 Q120 144 96 134 Z" fill="#5f7044"/>
<path d="M100 84 Q124 80 140 88 Q136 100 112 100 Q100 96 100 84 Z" fill="#586b3e"/>
<path d="M164 84 Q210 78 260 82 V150 H168 Z" fill="#6b7352"/>
<path d="M186 96 Q206 90 214 104 Q210 120 192 118 Q182 108 186 96 Z" fill="#5d6f44"/>
</g>
<g filter="url(#bs)" fill="none" stroke-linecap="round">
<path d="M84.0 36.0 Q81.0 48.0 80.5 55.0 Q80.0 62.0 81.0 68.0 Q82.0 74.0 83.0 80.0 Q84.0 86.0 83.5 93.0 Q83.0 100.0 84.5 107.0 Q86.0 114.0 87.0 120.0 Q88.0 126.0 89.5 136.0 L91.0 146.0" stroke="#a9ad9c" stroke-width="3" stroke-opacity=".5"/>
<path d="M84.0 36.0 Q82.0 26.0 82.5 21.0 Q83.0 16.0 85.5 12.0 Q88.0 8.0 90.0 2.0 L92.0 -4.0" stroke="#a9ad9c" stroke-width="2.4" stroke-opacity=".6"/>
<path d="M85.0 37.0 Q94.0 32.0 99.0 30.0 Q104.0 28.0 111.0 26.0 Q118.0 24.0 125.0 22.5 L132.0 21.0" stroke="#b0b4a4" stroke-width="2.6" stroke-opacity=".55"/>
<path d="M40.0 -4.0 Q46.0 10.0 50.0 16.0 Q54.0 22.0 59.0 28.0 Q64.0 34.0 69.0 38.0 Q74.0 42.0 78.0 46.0 L82.0 50.0" stroke="#b1b29a" stroke-width="2.6" stroke-opacity=".62"/>
<path d="M92.0 76.0 Q120.0 81.0 135.0 80.0 Q150.0 79.0 165.0 81.0 Q180.0 83.0 195.0 81.0 Q210.0 79.0 221.0 78.5 Q232.0 78.0 241.0 81.0 L250.0 84.0" stroke="#a7a98f" stroke-width="2" stroke-opacity=".55"/>
</g>
<g filter="url(#bt)" fill="none" stroke="#bdbd9e" stroke-linecap="round" stroke-linejoin="round">
<path d="M33.0 24.6 Q34.3 27.4 34.9 28.8 Q35.5 30.3 36.1 31.7 Q36.7 33.1 38.0 34.0 Q39.2 34.9 38.7 36.4 Q38.1 37.8 38.3 39.4 Q38.4 40.9 38.3 42.5 Q38.1 44.0 38.0 45.5 Q37.8 47.1 37.1 48.5 Q36.4 49.9 37.2 51.2 Q38.1 52.5 37.6 54.0 L37.2 55.5" stroke-width="1.08" stroke-opacity="0.65"/>
<path d="M28.9 15.0 Q29.2 18.1 29.2 19.6 Q29.2 21.2 28.1 22.2 Q27.0 23.3 26.2 24.7 Q25.4 26.0 24.4 27.2 Q23.3 28.3 22.3 29.4 Q21.2 30.6 20.0 31.6 Q18.9 32.6 17.5 33.3 Q16.1 34.0 14.6 34.0 Q13.0 33.9 11.9 35.0 Q10.8 36.1 11.0 37.6 L11.1 39.2" stroke-width="1.20" stroke-opacity="0.52"/>
<path d="M56.2 3.1 Q58.0 5.6 59.5 6.2 Q60.9 6.8 62.3 7.3 Q63.8 7.8 65.3 7.3 Q66.8 6.9 68.0 6.0 Q69.3 5.1 70.0 3.7 Q70.6 2.3 71.7 1.2 Q72.7 0.0 73.2 -1.5 Q73.6 -3.0 74.1 -4.4 Q74.7 -5.9 75.9 -6.8 Q77.1 -7.7 78.7 -8.0 Q80.2 -8.3 81.5 -9.1 Q82.8 -9.9 84.3 -10.5 Q85.7 -11.1 87.0 -10.2 Q88.3 -9.4 89.8 -9.9 Q91.2 -10.4 92.5 -9.5 Q93.7 -8.6 95.2 -8.3 Q96.8 -7.9 98.1 -7.1 Q99.4 -6.4 99.4 -4.8 L99.4 -3.3" stroke-width="0.92" stroke-opacity="0.45"/>
<path d="M58.0 32.4 Q56.8 35.3 56.4 36.8 Q56.1 38.3 55.3 39.7 Q54.6 41.0 53.5 42.1 Q52.3 43.2 51.3 44.2 Q50.2 45.3 48.7 45.9 Q47.2 46.4 46.3 47.6 Q45.4 48.9 44.2 49.9 Q43.1 51.0 43.9 52.3 Q44.7 53.6 45.5 54.9 Q46.3 56.2 47.9 56.3 L49.4 56.5" stroke-width="1.28" stroke-opacity="0.37"/>
<path d="M40.6 27.3 Q38.7 29.8 37.7 31.0 Q36.7 32.1 35.3 32.8 Q33.8 33.4 33.0 34.7 Q32.3 36.0 31.0 37.0 Q29.8 37.9 30.3 39.4 Q30.8 40.8 29.9 42.0 Q28.9 43.3 27.4 43.6 Q25.9 43.9 24.5 44.6 Q23.2 45.4 22.4 46.7 Q21.5 48.0 21.6 49.6 Q21.7 51.1 21.1 52.6 L20.6 54.0" stroke-width="1.40" stroke-opacity="0.39"/>
<path d="M37.7 26.5 Q40.8 27.1 42.2 26.4 Q43.6 25.7 45.0 26.3 Q46.4 26.9 48.0 27.2 Q49.5 27.4 50.5 28.6 Q51.6 29.7 52.7 30.8 Q53.8 31.9 55.3 32.2 Q56.8 32.6 58.2 33.3 Q59.6 33.9 60.9 34.8 Q62.2 35.6 63.8 35.5 Q65.3 35.3 65.8 36.8 L66.2 38.3" stroke-width="1.58" stroke-opacity="0.56"/>
<path d="M18.7 18.2 Q21.4 19.7 22.9 20.2 Q24.3 20.8 25.2 22.0 Q26.2 23.3 26.2 24.8 Q26.3 26.4 26.8 27.8 Q27.3 29.3 26.8 30.8 Q26.4 32.3 26.4 33.8 Q26.4 35.4 26.5 36.9 Q26.7 38.4 26.3 39.9 Q25.9 41.4 24.7 42.4 Q23.5 43.4 23.9 44.9 Q24.2 46.4 23.7 47.9 Q23.1 49.3 23.0 50.9 Q22.8 52.4 23.3 53.9 Q23.9 55.3 24.1 56.9 Q24.3 58.4 23.6 59.8 Q22.9 61.2 22.3 62.6 L21.7 64.0" stroke-width="1.11" stroke-opacity="0.36"/>
<path d="M47.7 30.8 Q48.3 33.8 49.1 35.2 Q49.8 36.6 50.9 37.7 Q51.9 38.9 51.9 40.4 Q51.9 42.0 53.0 43.1 Q54.1 44.2 53.6 45.7 Q53.1 47.1 54.2 48.1 Q55.4 49.1 55.3 50.7 Q55.3 52.2 55.9 53.7 Q56.5 55.1 57.6 56.1 Q58.8 57.2 58.7 58.7 Q58.6 60.3 59.6 61.4 Q60.7 62.6 62.2 62.4 Q63.8 62.2 64.8 61.1 L65.9 60.0" stroke-width="1.03" stroke-opacity="0.56"/>
<path d="M18.7 3.6 Q20.4 6.1 21.5 7.3 Q22.5 8.4 24.0 9.0 Q25.4 9.5 26.9 9.0 Q28.3 8.5 29.9 8.5 Q31.4 8.4 33.0 8.2 Q34.5 8.0 35.5 9.2 Q36.5 10.4 38.0 10.1 Q39.5 9.9 40.5 8.6 Q41.4 7.4 42.9 7.5 Q44.5 7.7 45.8 6.8 Q47.1 6.0 48.5 6.7 L49.9 7.3" stroke-width="1.67" stroke-opacity="0.46"/>
<path d="M0.7 36.3 Q3.8 36.9 4.9 35.8 Q6.0 34.7 6.4 33.3 Q6.9 31.8 8.2 31.0 Q9.5 30.2 10.7 31.2 Q11.8 32.2 11.8 33.8 Q11.7 35.3 10.9 36.7 Q10.1 38.0 11.1 39.2 Q12.1 40.4 13.4 41.2 Q14.8 41.9 16.3 41.9 Q17.9 41.8 18.9 40.6 L19.8 39.4" stroke-width="1.66" stroke-opacity="0.65"/>
<path d="M56.2 37.0 Q59.2 37.8 60.7 37.4 Q62.2 36.9 63.5 36.1 Q64.8 35.3 66.3 34.9 Q67.8 34.5 69.4 34.4 Q70.9 34.3 72.3 34.9 Q73.7 35.6 73.9 37.1 Q74.1 38.7 74.9 40.0 Q75.7 41.3 76.1 42.8 Q76.5 44.3 78.0 44.8 Q79.5 45.3 81.0 45.3 Q82.6 45.3 83.3 46.7 L84.1 48.0" stroke-width="1.25" stroke-opacity="0.43"/>
<path d="M22.5 39.6 Q23.9 42.4 24.5 43.8 Q25.2 45.2 25.7 46.6 Q26.3 48.1 27.5 49.1 Q28.6 50.0 28.3 51.6 Q27.9 53.1 28.0 54.6 Q28.0 56.2 29.3 57.1 Q30.6 58.0 32.1 58.1 Q33.6 58.1 35.2 58.1 Q36.7 58.1 37.4 59.5 Q38.0 60.9 39.2 61.9 Q40.4 62.9 41.7 63.7 Q43.1 64.4 44.0 65.7 Q44.9 66.9 46.5 67.0 Q48.0 67.2 48.8 68.5 Q49.6 69.9 49.8 71.4 L50.1 72.9" stroke-width="1.25" stroke-opacity="0.43"/>
<path d="M62.3 5.5 Q65.4 5.8 66.8 5.2 Q68.3 4.6 69.7 4.0 Q71.1 3.4 72.6 3.2 Q74.2 3.1 75.7 3.0 Q77.3 3.0 78.0 4.3 Q78.7 5.7 79.2 7.2 Q79.8 8.6 80.5 10.0 Q81.1 11.4 81.2 12.9 Q81.3 14.5 82.2 15.8 Q83.0 17.1 84.5 17.4 Q86.0 17.7 87.6 17.7 Q89.1 17.7 90.7 17.5 Q92.2 17.3 93.5 18.2 Q94.7 19.1 95.6 20.4 Q96.5 21.6 97.6 22.8 Q98.6 23.9 100.1 24.1 L101.7 24.4" stroke-width="1.32" stroke-opacity="0.42"/>
<path d="M11.9 30.1 Q12.8 33.0 11.9 34.3 Q11.0 35.5 11.3 37.0 Q11.7 38.6 10.8 39.8 Q9.8 41.0 9.2 42.4 Q8.5 43.8 9.2 45.2 Q9.8 46.6 9.5 48.2 Q9.3 49.7 8.3 50.9 Q7.3 52.1 6.6 53.5 Q5.9 54.9 6.8 56.2 Q7.6 57.5 9.1 58.0 Q10.5 58.6 10.8 60.1 Q11.1 61.7 11.7 63.1 Q12.2 64.6 13.2 65.8 Q14.1 67.0 15.7 67.2 Q17.2 67.3 18.6 68.1 L20.0 68.8" stroke-width="1.57" stroke-opacity="0.62"/>
<path d="M39.0 19.5 Q39.5 22.5 40.2 23.9 Q40.9 25.3 42.0 26.4 Q43.0 27.6 44.2 28.5 Q45.4 29.5 46.2 30.8 Q47.0 32.2 48.5 32.7 Q50.0 33.2 51.5 32.9 Q53.0 32.5 53.3 34.1 Q53.6 35.6 54.3 37.0 Q54.9 38.4 54.2 39.8 Q53.5 41.2 54.1 42.6 Q54.7 44.0 53.9 45.4 L53.1 46.7" stroke-width="1.03" stroke-opacity="0.51"/>
<path d="M66.8 10.9 Q66.9 14.0 67.6 15.4 Q68.3 16.8 68.1 18.3 Q67.9 19.8 66.7 20.9 Q65.5 21.9 65.3 23.4 Q65.0 24.9 64.9 26.5 Q64.8 28.0 66.1 28.9 Q67.4 29.8 68.6 30.7 Q69.9 31.6 71.0 32.6 Q72.2 33.7 72.8 35.1 Q73.4 36.5 73.7 38.0 Q74.0 39.6 73.0 40.7 Q71.9 41.8 70.3 42.0 Q68.8 42.3 67.4 41.6 Q66.0 41.0 64.9 39.9 Q63.8 38.9 62.4 38.1 Q61.1 37.3 60.1 38.5 Q59.2 39.7 59.9 41.1 Q60.6 42.5 61.4 43.8 L62.2 45.1" stroke-width="1.44" stroke-opacity="0.65"/>
<path d="M22.3 64.7 Q25.4 65.0 25.9 66.4 Q26.3 67.9 26.6 69.4 Q26.8 71.0 26.2 72.4 Q25.7 73.9 24.7 75.1 Q23.8 76.3 23.6 77.9 Q23.4 79.4 24.6 80.3 Q25.9 81.2 26.0 82.8 Q26.2 84.3 27.1 85.5 Q28.1 86.8 29.6 87.0 Q31.1 87.2 32.4 86.4 Q33.8 85.5 35.3 85.2 L36.8 84.8" stroke-width="1.39" stroke-opacity="0.38"/>
<path d="M17.8 36.7 Q20.5 35.2 22.0 35.2 Q23.6 35.2 25.1 34.9 Q26.6 34.7 27.7 33.5 Q28.8 32.4 30.3 32.8 Q31.8 33.3 33.1 34.0 Q34.5 34.7 35.9 35.3 Q37.3 35.9 38.9 35.8 Q40.4 35.6 41.5 34.4 L42.5 33.3" stroke-width="1.24" stroke-opacity="0.47"/>
<path d="M26.1 29.9 Q29.2 29.8 30.8 29.8 Q32.3 29.8 33.2 31.1 Q34.1 32.4 34.2 34.0 Q34.3 35.5 35.6 36.3 Q37.0 37.0 38.5 36.7 Q40.0 36.3 41.1 35.2 Q42.2 34.1 42.7 32.7 Q43.2 31.2 44.7 30.7 Q46.1 30.3 47.4 29.4 Q48.7 28.6 49.1 27.1 Q49.6 25.6 50.2 24.2 Q50.8 22.8 50.8 21.2 Q50.7 19.7 49.9 18.4 L49.1 17.0" stroke-width="0.88" stroke-opacity="0.42"/>
<path d="M2.3 64.9 Q3.4 67.7 4.3 69.0 Q5.1 70.4 6.6 70.2 Q8.2 70.1 9.7 69.9 Q11.2 69.7 12.0 71.0 Q12.8 72.4 14.2 71.9 Q15.7 71.4 17.0 70.6 Q18.4 69.8 19.5 68.8 Q20.7 67.8 22.1 67.3 Q23.6 66.7 25.0 67.2 Q26.5 67.8 27.3 69.1 Q28.2 70.4 29.5 71.2 Q30.9 71.9 32.4 72.1 Q34.0 72.2 35.3 71.5 Q36.7 70.7 38.0 71.5 Q39.3 72.4 40.7 72.9 Q42.2 73.4 43.5 72.5 Q44.8 71.7 45.4 70.2 Q46.0 68.8 47.0 67.6 L48.0 66.5" stroke-width="1.31" stroke-opacity="0.55"/>
<path d="M26.0 105.7 Q27.9 103.2 28.2 101.7 Q28.5 100.2 29.8 99.3 Q31.1 98.5 32.6 98.9 Q34.1 99.3 35.6 98.9 Q37.1 98.5 37.7 97.1 Q38.3 95.7 38.8 94.2 Q39.3 92.8 39.7 91.3 Q40.2 89.8 40.1 88.2 L39.9 86.7" stroke-width="0.84" stroke-opacity="0.38"/>
<path d="M16.8 133.6 Q18.9 131.3 18.6 129.8 Q18.2 128.3 17.6 126.9 Q16.9 125.5 16.5 124.0 Q16.2 122.5 17.2 121.3 Q18.2 120.2 19.6 119.4 Q20.9 118.6 22.0 117.5 Q23.0 116.3 24.5 116.0 Q26.0 115.8 26.8 114.4 Q27.5 113.0 29.1 113.2 Q30.6 113.3 31.9 112.5 Q33.3 111.7 33.9 110.4 Q34.6 109.0 36.1 109.3 Q37.7 109.6 38.5 110.9 L39.4 112.1" stroke-width="1.18" stroke-opacity="0.53"/>
<path d="M6.8 22.6 Q9.9 23.2 11.4 23.1 Q13.0 23.1 14.3 23.9 Q15.6 24.8 15.9 26.3 Q16.1 27.8 17.2 29.0 Q18.2 30.1 19.7 29.6 Q21.2 29.1 21.7 27.7 Q22.2 26.2 23.6 25.5 Q25.0 24.7 25.4 23.2 Q25.8 21.8 27.3 21.9 Q28.9 22.0 30.4 22.3 Q31.9 22.6 33.4 22.8 L35.0 23.0" stroke-width="1.15" stroke-opacity="0.49"/>
<path d="M9.2 88.5 Q11.4 90.6 12.2 92.0 Q12.9 93.4 14.1 94.4 Q15.2 95.5 15.9 96.9 Q16.6 98.3 18.2 98.3 Q19.7 98.3 20.8 97.2 Q21.9 96.1 23.4 96.3 Q24.9 96.5 26.2 95.7 Q27.5 94.8 28.7 93.8 Q29.9 92.8 30.3 91.4 Q30.7 89.9 31.1 88.4 Q31.4 86.8 32.1 85.5 Q32.9 84.1 34.4 84.2 Q36.0 84.3 36.7 82.9 L37.4 81.5" stroke-width="0.86" stroke-opacity="0.59"/>
<path d="M227.0 86.2 Q227.7 89.2 226.6 90.4 Q225.5 91.5 225.9 93.0 Q226.3 94.5 227.4 95.5 Q228.6 96.6 229.3 97.9 Q230.1 99.3 231.5 99.8 Q233.0 100.4 234.1 101.5 Q235.1 102.6 236.6 102.9 Q238.2 103.1 239.5 103.9 Q240.9 104.6 240.7 106.1 Q240.5 107.7 239.3 108.7 Q238.2 109.7 238.5 111.3 Q238.9 112.8 239.9 114.0 Q240.8 115.2 242.0 116.1 Q243.2 117.1 244.0 118.5 Q244.7 119.9 245.9 120.8 L247.1 121.8" stroke-width="1.09" stroke-opacity="0.33"/>
<path d="M173.3 101.2 Q171.5 103.7 170.7 105.0 Q169.8 106.3 169.3 107.8 Q168.8 109.2 168.7 110.8 Q168.6 112.3 168.7 113.9 Q168.9 115.4 168.9 117.0 Q169.0 118.5 170.1 119.6 Q171.2 120.6 172.5 121.5 Q173.8 122.4 175.3 122.7 Q176.8 123.0 178.3 123.4 Q179.8 123.9 181.0 124.8 L182.3 125.7" stroke-width="1.53" stroke-opacity="0.33"/>
<path d="M242.5 105.4 Q243.7 108.3 245.1 108.9 Q246.5 109.5 246.7 111.0 Q247.0 112.6 246.4 114.0 Q245.8 115.4 246.7 116.7 Q247.5 118.0 247.7 119.6 Q248.0 121.1 247.4 122.5 Q246.7 123.9 245.3 124.6 Q243.9 125.2 243.9 126.8 Q243.8 128.3 242.6 129.3 Q241.3 130.2 241.8 131.7 Q242.3 133.1 241.7 134.6 Q241.2 136.1 240.2 137.2 Q239.2 138.4 239.4 140.0 Q239.5 141.5 239.5 143.1 Q239.6 144.6 239.1 146.1 Q238.6 147.5 239.2 149.0 L239.8 150.4" stroke-width="1.64" stroke-opacity="0.53"/>
<path d="M230.1 98.1 Q231.6 100.8 232.9 101.5 Q234.3 102.2 235.9 102.5 Q237.4 102.7 238.7 103.5 Q240.1 104.2 239.8 105.7 Q239.6 107.3 238.4 108.3 Q237.2 109.3 236.1 110.4 Q235.0 111.5 234.8 113.0 Q234.5 114.5 235.2 115.9 Q235.8 117.4 236.3 118.8 Q236.8 120.3 237.9 121.4 L239.0 122.5" stroke-width="1.46" stroke-opacity="0.37"/>
<path d="M186.1 106.8 Q188.1 109.1 187.8 110.7 Q187.4 112.2 188.0 113.6 Q188.7 115.0 189.9 116.0 Q191.1 117.0 192.6 116.9 Q194.2 116.9 195.1 118.1 Q196.1 119.4 196.4 120.9 Q196.7 122.4 196.1 123.8 Q195.6 125.3 194.5 126.4 Q193.5 127.6 192.1 128.3 Q190.7 128.9 190.1 130.4 Q189.5 131.8 188.3 132.8 Q187.0 133.7 185.7 134.5 Q184.3 135.2 183.1 136.2 L181.9 137.2" stroke-width="1.22" stroke-opacity="0.39"/>
<path d="M236.0 97.6 Q238.3 99.7 238.9 101.2 Q239.5 102.6 240.9 103.2 Q242.4 103.8 242.9 105.3 Q243.4 106.7 243.7 108.2 Q243.9 109.8 243.1 111.1 Q242.3 112.5 241.3 113.6 Q240.2 114.7 238.8 115.4 Q237.4 116.0 236.4 117.2 Q235.3 118.3 235.1 119.9 Q234.8 121.4 234.5 122.9 Q234.2 124.4 233.0 125.3 Q231.7 126.2 230.2 126.2 Q228.6 126.2 227.1 126.5 Q225.6 126.9 224.7 128.1 Q223.8 129.4 222.9 130.7 L221.9 131.9" stroke-width="1.12" stroke-opacity="0.51"/>
<path d="M204.0 96.9 Q202.7 99.7 201.4 100.4 Q200.0 101.1 198.7 102.0 Q197.5 102.9 197.4 104.5 Q197.3 106.0 197.3 107.6 Q197.4 109.1 198.1 110.5 Q198.7 111.9 199.8 113.0 Q200.9 114.1 202.1 115.1 Q203.3 116.1 203.0 117.6 Q202.7 119.2 202.7 120.7 Q202.6 122.2 202.2 123.7 Q201.8 125.2 200.4 125.9 L199.0 126.5" stroke-width="1.49" stroke-opacity="0.57"/>
<path d="M194.4 88.9 Q196.8 90.9 198.0 91.9 Q199.2 92.9 199.3 94.4 Q199.5 96.0 200.9 96.7 Q202.2 97.4 202.7 98.9 Q203.2 100.4 202.7 101.8 Q202.3 103.3 201.8 104.8 Q201.3 106.3 202.5 107.2 Q203.8 108.1 205.3 107.6 Q206.7 107.1 208.3 107.2 Q209.8 107.3 211.4 107.2 Q212.9 107.2 214.4 106.8 Q216.0 106.5 216.9 105.3 Q217.9 104.1 219.5 103.9 Q221.0 103.6 222.0 102.5 Q223.0 101.3 224.5 101.9 Q225.9 102.5 226.8 103.8 L227.7 105.0" stroke-width="1.68" stroke-opacity="0.46"/>
<path d="M228.9 98.0 Q228.0 101.0 227.0 102.2 Q226.1 103.5 224.7 104.0 Q223.2 104.6 221.8 105.2 Q220.4 105.8 219.1 106.7 Q217.9 107.6 216.6 108.5 Q215.3 109.4 215.0 110.9 Q214.6 112.4 214.8 113.9 Q215.1 115.5 216.4 116.2 Q217.7 117.0 219.3 117.0 Q220.8 116.9 222.4 117.2 Q223.9 117.5 224.9 118.7 Q225.9 119.9 227.2 120.7 Q228.6 121.5 228.8 123.0 L229.1 124.5" stroke-width="1.45" stroke-opacity="0.46"/>
<path d="M215.3 94.5 Q216.6 97.3 217.9 98.1 Q219.3 98.8 220.6 99.6 Q222.0 100.4 222.2 101.9 Q222.5 103.4 221.4 104.6 Q220.4 105.7 219.6 107.0 Q218.8 108.4 217.7 109.4 Q216.5 110.4 217.1 111.9 Q217.8 113.3 217.9 114.8 Q218.0 116.4 217.2 117.7 Q216.5 119.1 215.1 119.8 Q213.8 120.6 212.5 121.5 Q211.2 122.3 210.7 123.8 Q210.3 125.3 211.2 126.5 Q212.1 127.8 213.4 128.6 Q214.7 129.5 216.2 129.9 L217.7 130.4" stroke-width="1.24" stroke-opacity="0.56"/>
<path d="M166.8 89.0 Q168.4 91.6 167.4 92.9 Q166.5 94.1 166.2 95.6 Q165.8 97.1 166.0 98.7 Q166.1 100.2 167.0 101.5 Q167.8 102.8 168.2 104.4 Q168.5 105.9 168.5 107.4 Q168.5 109.0 167.5 110.1 Q166.4 111.3 166.7 112.8 L166.9 114.3" stroke-width="1.35" stroke-opacity="0.33"/>
<path d="M166.2 90.2 Q167.4 93.1 166.7 94.5 Q166.0 95.9 166.4 97.4 Q166.8 98.9 166.1 100.3 Q165.5 101.7 165.8 103.2 Q166.1 104.7 167.3 105.8 Q168.4 106.8 169.8 107.4 Q171.3 108.0 172.8 108.4 Q174.3 108.8 175.4 109.8 Q176.6 110.8 177.9 111.6 Q179.2 112.5 180.6 113.2 Q182.0 113.9 183.1 114.9 L184.3 116.0" stroke-width="1.68" stroke-opacity="0.35"/>
<path d="M243.5 93.3 Q243.2 96.4 242.1 97.5 Q241.0 98.6 239.6 99.1 Q238.1 99.6 236.5 99.8 Q235.0 100.0 233.6 99.4 Q232.1 98.8 230.6 98.7 Q229.0 98.7 227.7 99.4 Q226.3 100.1 225.0 100.9 Q223.6 101.7 223.3 103.2 Q223.0 104.7 221.9 105.8 Q220.7 106.8 219.7 108.0 Q218.6 109.1 217.9 110.5 Q217.1 111.8 216.0 112.9 Q214.9 114.0 213.4 114.2 L211.9 114.4" stroke-width="0.90" stroke-opacity="0.59"/>
<path d="M206.4 108.8 Q206.4 111.9 205.5 113.2 Q204.5 114.4 203.2 115.2 Q201.9 116.0 201.3 117.4 Q200.7 118.8 200.7 120.4 Q200.8 121.9 199.9 123.2 Q199.0 124.5 198.1 125.7 Q197.2 127.0 197.5 128.5 Q197.9 130.0 198.7 131.3 Q199.6 132.6 200.0 134.1 Q200.4 135.6 200.1 137.1 Q199.8 138.6 199.5 140.1 Q199.3 141.6 200.1 143.0 Q201.0 144.3 201.9 145.5 L202.8 146.7" stroke-width="0.93" stroke-opacity="0.39"/>
<path d="M206.7 82.4 Q208.0 85.2 208.6 86.6 Q209.3 88.0 210.6 88.9 Q211.8 89.8 213.4 90.0 Q214.9 90.2 216.4 90.4 Q218.0 90.7 219.5 90.3 Q221.0 89.9 222.4 90.4 Q223.9 91.0 224.4 92.4 Q225.0 93.9 225.7 95.2 Q226.5 96.6 226.1 98.1 Q225.6 99.5 226.0 101.0 Q226.3 102.5 227.5 103.6 L228.7 104.6" stroke-width="1.40" stroke-opacity="0.49"/>
<path d="M176.6 103.0 Q176.4 106.1 175.5 107.3 Q174.6 108.6 173.4 109.5 Q172.1 110.5 171.0 111.5 Q169.9 112.6 168.5 113.3 Q167.1 114.0 166.6 115.4 Q166.0 116.9 164.8 117.9 Q163.7 118.9 163.9 120.4 Q164.2 121.9 164.9 123.3 Q165.7 124.6 167.2 125.2 Q168.6 125.8 169.7 126.8 L170.9 127.9" stroke-width="1.44" stroke-opacity="0.36"/>
<path d="M238.9 110.0 Q238.3 113.0 239.1 114.3 Q239.8 115.7 240.8 116.9 Q241.7 118.2 241.1 119.6 Q240.5 121.0 241.1 122.4 Q241.7 123.9 243.2 124.4 Q244.7 124.9 245.1 126.4 Q245.6 127.9 244.6 129.1 Q243.7 130.3 242.6 131.5 L241.6 132.6" stroke-width="1.62" stroke-opacity="0.51"/>
<path d="M219.0 107.5 Q220.0 110.4 220.4 111.9 Q220.8 113.4 219.9 114.6 Q218.9 115.8 218.9 117.4 Q218.9 118.9 218.7 120.5 Q218.6 122.0 218.6 123.6 Q218.5 125.1 219.1 126.5 Q219.8 128.0 221.3 128.2 Q222.8 128.4 224.1 129.3 Q225.3 130.3 226.6 131.2 Q227.9 132.0 229.0 133.1 Q230.2 134.1 231.7 134.3 Q233.3 134.5 234.8 134.5 Q236.4 134.5 237.5 135.5 Q238.7 136.5 240.1 137.1 Q241.5 137.8 243.0 138.2 Q244.5 138.7 246.0 139.2 L247.4 139.7" stroke-width="1.59" stroke-opacity="0.33"/>
<path d="M240.2 106.7 Q240.4 109.8 239.6 111.1 Q238.7 112.4 237.7 113.5 Q236.6 114.7 236.0 116.1 Q235.4 117.5 233.9 118.0 Q232.5 118.6 231.7 119.9 Q230.8 121.2 229.4 121.8 Q228.0 122.3 226.8 123.3 Q225.6 124.3 225.9 125.8 Q226.3 127.3 225.6 128.7 Q224.9 130.0 223.6 131.0 Q222.4 132.0 221.2 132.9 Q220.0 133.9 218.9 134.9 Q217.7 136.0 217.4 137.5 Q217.1 139.0 217.5 140.5 Q217.9 142.0 217.8 143.6 L217.7 145.1" stroke-width="1.68" stroke-opacity="0.58"/>
<path d="M244.3 97.8 Q246.6 99.8 247.7 101.0 Q248.7 102.1 249.8 103.2 Q250.8 104.4 252.3 104.4 Q253.9 104.4 255.4 104.4 Q257.0 104.3 258.3 105.0 Q259.7 105.7 261.2 105.4 Q262.7 105.1 264.3 104.9 Q265.8 104.7 267.3 105.1 Q268.8 105.5 270.4 105.6 Q271.9 105.7 273.5 105.5 L275.0 105.4" stroke-width="0.97" stroke-opacity="0.45"/>
<path d="M221.2 86.1 Q219.5 88.7 220.3 90.0 Q221.0 91.4 220.9 92.9 Q220.7 94.5 221.6 95.8 Q222.4 97.1 223.3 98.3 Q224.3 99.5 225.7 100.2 Q227.0 101.0 228.3 101.8 Q229.6 102.7 231.1 103.2 Q232.5 103.7 233.9 104.5 Q235.3 105.2 236.0 106.6 Q236.8 107.9 238.3 108.3 L239.8 108.7" stroke-width="1.18" stroke-opacity="0.49"/>
<path d="M165.8 106.4 Q168.7 107.6 170.2 108.0 Q171.7 108.5 173.2 108.1 Q174.7 107.8 175.7 109.0 Q176.8 110.1 178.3 110.2 Q179.9 110.4 181.4 110.5 Q183.0 110.7 183.5 112.1 Q184.0 113.6 185.0 114.8 Q186.1 115.9 187.6 116.0 Q189.1 116.1 189.7 117.6 Q190.3 119.0 191.4 120.1 L192.5 121.1" stroke-width="1.01" stroke-opacity="0.42"/>
<path d="M235.5 78.8 Q236.3 81.8 235.5 83.1 Q234.7 84.5 234.0 85.9 Q233.3 87.3 232.2 88.4 Q231.2 89.5 231.5 91.0 Q231.8 92.5 232.9 93.7 Q233.9 94.8 234.9 96.0 Q236.0 97.1 236.5 98.6 Q237.1 100.0 236.6 101.5 Q236.1 102.9 235.3 104.2 Q234.5 105.6 233.6 106.8 L232.7 108.1" stroke-width="0.90" stroke-opacity="0.34"/>
<path d="M201.7 93.0 Q204.1 95.0 205.1 96.2 Q206.1 97.4 205.5 98.8 Q204.9 100.2 205.0 101.8 Q205.1 103.3 206.3 104.3 Q207.5 105.3 208.6 106.4 Q209.7 107.5 211.2 107.8 Q212.7 108.1 213.3 109.6 Q213.9 111.0 214.4 112.5 L214.8 114.0" stroke-width="1.44" stroke-opacity="0.45"/>
<path d="M182.9 98.2 Q184.8 100.7 184.7 102.2 Q184.7 103.8 184.7 105.3 Q184.8 106.9 183.9 108.1 Q182.9 109.4 182.0 110.6 Q181.2 111.9 180.5 113.3 Q179.9 114.7 179.9 116.3 Q180.0 117.8 179.8 119.4 Q179.6 120.9 180.5 122.2 L181.4 123.4" stroke-width="1.28" stroke-opacity="0.31"/>
<path d="M169.1 98.5 Q170.4 101.3 171.2 102.7 Q172.0 104.0 171.7 105.5 Q171.4 107.1 172.0 108.5 Q172.5 110.0 171.9 111.4 Q171.3 112.8 172.0 114.2 Q172.6 115.6 173.7 116.7 Q174.8 117.8 175.9 118.9 Q176.9 120.1 177.0 121.6 Q177.0 123.2 178.0 124.4 Q178.9 125.6 179.6 127.0 Q180.3 128.4 179.4 129.7 Q178.6 131.0 179.1 132.4 Q179.7 133.8 180.8 134.9 Q181.9 136.0 182.5 137.5 Q183.0 138.9 183.6 140.3 Q184.3 141.7 183.4 143.0 L182.5 144.3" stroke-width="1.14" stroke-opacity="0.56"/>
<path d="M217.6 91.3 Q219.0 94.1 218.3 95.5 Q217.6 96.9 217.3 98.4 Q217.0 99.9 216.9 101.5 Q216.8 103.0 218.0 104.1 Q219.2 105.1 219.6 106.6 Q220.1 108.0 220.7 109.5 Q221.4 110.9 220.5 112.1 Q219.6 113.4 218.9 114.8 Q218.2 116.2 217.0 117.2 Q215.8 118.2 214.4 118.8 L213.0 119.4" stroke-width="1.06" stroke-opacity="0.56"/>
<path d="M187.5 99.9 Q186.1 102.6 185.8 104.2 Q185.6 105.7 184.2 106.5 Q182.9 107.3 181.9 108.5 Q181.0 109.7 181.4 111.2 Q181.9 112.7 183.0 113.7 Q184.2 114.7 184.4 116.3 Q184.6 117.8 184.0 119.2 Q183.4 120.6 182.0 121.4 Q180.7 122.1 179.7 123.3 Q178.8 124.6 177.3 125.0 L175.8 125.5" stroke-width="1.06" stroke-opacity="0.59"/>
<path d="M188.0 83.5 Q189.9 85.9 189.7 87.5 Q189.5 89.0 189.8 90.6 Q190.0 92.1 191.1 93.2 Q192.2 94.3 192.5 95.8 Q192.9 97.3 192.6 98.9 Q192.4 100.4 193.2 101.7 Q194.0 103.0 194.7 104.4 Q195.5 105.8 196.7 106.6 Q198.0 107.5 198.3 109.0 Q198.7 110.6 199.8 111.6 Q201.0 112.6 201.4 114.1 Q201.8 115.6 201.9 117.1 Q202.0 118.7 201.2 120.0 Q200.4 121.3 199.0 121.9 Q197.6 122.5 196.4 123.5 Q195.3 124.6 193.8 124.8 L192.2 125.1" stroke-width="1.27" stroke-opacity="0.56"/>
<path d="M215.3 101.5 Q212.6 103.0 212.9 104.5 Q213.1 106.0 214.2 107.1 Q215.3 108.2 215.2 109.7 Q215.0 111.3 213.7 112.0 Q212.3 112.7 212.2 114.2 Q212.0 115.8 212.4 117.3 Q212.7 118.8 211.5 119.7 Q210.3 120.7 208.7 120.8 Q207.2 121.0 206.1 122.1 Q205.0 123.2 203.8 124.2 Q202.6 125.1 201.6 126.3 L200.6 127.5" stroke-width="1.45" stroke-opacity="0.45"/>
<path d="M101.6 88.4 Q104.3 89.9 104.1 91.4 Q104.0 93.0 105.3 93.8 Q106.6 94.6 107.9 95.5 Q109.1 96.4 110.7 96.7 Q112.2 97.0 112.8 98.4 Q113.4 99.8 112.9 101.3 Q112.4 102.8 113.7 103.7 Q114.9 104.6 116.5 104.7 Q118.0 104.8 118.9 106.1 Q119.7 107.4 118.8 108.7 L117.9 109.9" stroke-width="0.60" stroke-opacity="0.28"/>
<path d="M96.3 107.3 Q94.0 109.3 93.9 110.8 Q93.9 112.4 94.2 113.9 Q94.4 115.4 93.5 116.7 Q92.6 118.0 92.1 119.4 Q91.5 120.8 91.0 122.3 Q90.4 123.7 91.1 125.1 Q91.8 126.5 92.1 128.0 L92.5 129.6" stroke-width="0.77" stroke-opacity="0.34"/>
<path d="M130.4 82.1 Q133.3 83.3 134.4 84.3 Q135.5 85.4 135.4 87.0 Q135.3 88.5 135.1 90.1 Q134.8 91.6 135.5 93.0 Q136.2 94.3 136.7 95.8 Q137.2 97.3 138.5 98.2 Q139.7 99.1 141.3 99.2 L142.8 99.2" stroke-width="0.96" stroke-opacity="0.46"/>
<path d="M109.4 99.6 Q111.2 102.0 111.7 103.5 Q112.2 105.0 113.2 106.2 Q114.2 107.4 113.8 108.9 Q113.5 110.4 112.2 111.3 Q111.0 112.2 109.4 112.1 Q107.9 112.1 106.3 112.1 Q104.8 112.0 103.6 113.1 Q102.5 114.2 103.2 115.6 L103.8 117.0" stroke-width="0.75" stroke-opacity="0.28"/>
<path d="M117.6 88.2 Q120.0 90.1 119.3 91.5 Q118.7 92.9 117.9 94.2 Q117.0 95.6 116.7 97.1 Q116.4 98.6 115.5 99.8 Q114.6 101.1 113.1 101.5 Q111.6 102.0 110.5 103.1 Q109.4 104.2 109.0 105.7 Q108.6 107.2 107.8 108.5 Q107.0 109.9 105.8 110.7 Q104.5 111.6 103.3 112.6 L102.2 113.7" stroke-width="1.03" stroke-opacity="0.49"/>
<path d="M92.6 102.2 Q94.4 104.7 95.3 106.0 Q96.3 107.2 96.0 108.7 Q95.8 110.3 95.4 111.8 Q95.0 113.3 94.2 114.6 Q93.4 115.9 93.5 117.5 Q93.5 119.0 92.2 120.0 Q91.0 120.9 89.4 120.7 Q87.9 120.6 86.5 119.9 Q85.1 119.2 84.1 118.0 Q83.1 116.8 81.7 117.4 Q80.2 118.0 78.8 117.4 L77.4 116.8" stroke-width="0.67" stroke-opacity="0.41"/>
<path d="M113.8 98.1 Q112.5 100.9 113.0 102.4 Q113.5 103.9 114.4 105.1 Q115.3 106.4 114.9 107.9 Q114.5 109.4 113.7 110.7 Q112.8 112.0 112.7 113.5 Q112.6 115.0 112.4 116.6 Q112.2 118.1 111.0 119.1 Q109.8 120.0 109.6 121.6 Q109.4 123.1 108.8 124.5 Q108.2 126.0 109.1 127.2 L110.1 128.5" stroke-width="0.53" stroke-opacity="0.41"/>
<path d="M124.2 105.9 Q126.3 108.2 126.6 109.7 Q126.8 111.3 125.9 112.5 Q125.1 113.8 125.1 115.4 Q125.1 116.9 126.0 118.2 Q126.9 119.4 128.2 120.3 Q129.5 121.2 130.2 122.5 Q130.9 123.9 130.5 125.4 Q130.2 127.0 129.4 128.3 L128.6 129.6" stroke-width="0.52" stroke-opacity="0.27"/>
<path d="M129.9 18.8 Q128.0 17.3 127.1 18.1 Q126.2 19.0 126.1 20.2 Q125.9 21.4 125.8 22.7 Q125.6 23.9 124.9 24.9 Q124.2 25.9 123.7 27.0 L123.1 28.2" stroke-width="0.85" stroke-opacity="0.51"/>
<path d="M141.5 3.4 Q139.1 3.9 138.8 5.1 Q138.5 6.3 137.7 7.2 Q136.8 8.1 136.3 9.2 Q135.8 10.3 134.6 10.7 Q133.4 11.0 132.6 11.9 Q131.7 12.8 130.5 13.1 Q129.3 13.5 128.2 12.9 Q127.1 12.3 126.0 12.9 L124.9 13.4" stroke-width="0.95" stroke-opacity="0.43"/>
<path d="M169.4 -2.7 Q168.8 -0.3 168.9 0.9 Q169.1 2.2 168.0 2.8 Q166.9 3.4 166.5 4.6 Q166.0 5.7 164.8 5.4 Q163.6 5.2 163.0 4.1 Q162.5 2.9 161.8 1.9 Q161.1 0.9 160.3 -0.0 Q159.5 -1.0 158.3 -1.2 Q157.0 -1.4 156.3 -0.4 Q155.5 0.5 154.2 0.5 L153.0 0.5" stroke-width="0.52" stroke-opacity="0.48"/>
<path d="M215.9 0.0 Q215.0 2.3 213.8 2.8 Q212.7 3.3 211.6 2.7 Q210.6 2.1 209.7 1.2 Q208.8 0.3 207.7 0.7 Q206.5 1.1 206.4 2.4 Q206.3 3.6 205.3 4.3 Q204.3 5.0 203.1 4.6 L202.0 4.1" stroke-width="0.51" stroke-opacity="0.41"/>
<path d="M107.6 3.9 Q106.3 6.0 106.2 7.2 Q106.1 8.4 105.0 9.1 Q104.0 9.8 103.0 9.0 Q102.0 8.3 101.1 7.4 Q100.2 6.6 100.0 5.3 L99.8 4.1" stroke-width="0.91" stroke-opacity="0.57"/>
<path d="M182.5 4.9 Q180.6 3.3 180.2 2.2 Q179.8 1.0 178.6 0.6 Q177.4 0.1 176.3 -0.3 Q175.1 -0.7 174.0 -0.2 Q172.9 0.4 172.1 1.3 Q171.3 2.3 171.2 3.5 Q171.0 4.8 170.6 5.9 Q170.2 7.1 169.3 8.0 Q168.5 9.0 167.3 9.1 Q166.1 9.2 164.9 8.7 L163.7 8.3" stroke-width="1.00" stroke-opacity="0.69"/>
<path d="M127.0 19.8 Q124.7 20.7 123.8 21.6 Q122.8 22.4 121.8 23.0 Q120.7 23.6 119.5 23.3 Q118.2 23.1 117.2 23.7 Q116.1 24.3 115.3 25.2 Q114.5 26.2 114.9 27.3 Q115.3 28.5 115.7 29.7 Q116.1 30.8 115.9 32.0 Q115.6 33.3 114.6 33.9 Q113.5 34.6 112.6 35.5 L111.7 36.3" stroke-width="0.62" stroke-opacity="0.45"/>
<path d="M119.5 12.7 Q118.6 10.4 119.1 9.3 Q119.5 8.2 119.0 7.0 Q118.4 5.9 118.8 4.7 Q119.2 3.6 119.9 2.5 Q120.6 1.5 121.3 0.5 Q122.1 -0.5 122.1 -1.7 Q122.2 -2.9 122.8 -4.1 L123.3 -5.2" stroke-width="0.82" stroke-opacity="0.49"/>
<path d="M100.3 -2.1 Q98.6 -0.3 97.4 -0.5 Q96.1 -0.6 95.6 -1.7 Q95.1 -2.8 94.9 -4.1 Q94.8 -5.3 93.5 -5.2 Q92.3 -5.1 91.6 -4.0 L90.9 -3.0" stroke-width="0.53" stroke-opacity="0.53"/>
<path d="M137.7 -0.6 Q135.4 0.4 134.3 -0.2 Q133.2 -0.8 132.4 -1.7 Q131.6 -2.6 131.6 -3.9 Q131.6 -5.1 130.3 -5.3 Q129.1 -5.5 128.3 -4.6 L127.4 -3.8" stroke-width="0.76" stroke-opacity="0.55"/>
<path d="M113.8 5.6 Q112.4 7.6 111.2 7.8 Q110.0 8.1 108.7 8.2 Q107.5 8.3 106.7 7.3 Q106.0 6.3 104.8 6.0 Q103.6 5.6 102.7 4.8 L101.7 3.9" stroke-width="0.63" stroke-opacity="0.52"/>
<path d="M201.7 9.1 Q199.9 7.5 199.5 6.3 Q199.2 5.1 198.0 5.4 Q196.8 5.7 195.7 6.3 Q194.7 7.0 194.4 8.2 Q194.1 9.4 192.9 9.7 Q191.7 10.0 190.6 9.2 Q189.6 8.5 188.6 7.8 Q187.6 7.1 187.4 5.9 Q187.1 4.7 185.9 4.3 Q184.7 4.0 183.8 3.2 L182.9 2.4" stroke-width="0.62" stroke-opacity="0.68"/>
<path d="M28.0 68.0 Q22.0 78.0 18.0 84.0 Q14.0 90.0 11.0 94.0 Q8.0 98.0 13.0 102.0 Q18.0 106.0 24.0 109.0 Q30.0 112.0 35.0 115.0 Q40.0 118.0 45.0 122.0 Q50.0 126.0 54.0 131.0 Q58.0 136.0 59.0 141.0 L60.0 146.0" stroke-width="1" stroke-opacity=".75"/>
<path d="M28.0 68.0 Q44.0 66.0 51.0 67.0 Q58.0 68.0 62.0 71.0 Q66.0 74.0 69.0 79.0 Q72.0 84.0 74.0 90.0 L76.0 96.0" stroke-width=".9" stroke-opacity=".65"/>
<path d="M96.0 38.0 Q110.0 33.0 119.0 33.5 Q128.0 34.0 139.0 32.0 Q150.0 30.0 160.0 31.0 Q170.0 32.0 180.0 29.5 Q190.0 27.0 198.0 24.5 Q206.0 22.0 214.0 21.5 Q222.0 21.0 233.5 21.5 L245.0 22.0" stroke-width=".8" stroke-opacity=".6"/>
<path d="M196.0 28.0 Q202.0 36.0 201.0 41.0 Q200.0 46.0 205.0 49.0 Q210.0 52.0 216.0 54.0 Q222.0 56.0 227.0 61.0 Q232.0 66.0 234.0 71.0 L236.0 76.0" stroke-width=".9" stroke-opacity=".6"/>
</g>
</g>
<path d="M84.0 36.0 Q81.0 48.0 80.5 55.0 Q80.0 62.0 81.0 68.0 Q82.0 74.0 83.0 80.0 Q84.0 86.0 83.5 93.0 Q83.0 100.0 84.5 107.0 Q86.0 114.0 87.0 120.0 Q88.0 126.0 89.5 136.0 L91.0 146.0" fill="none" stroke="#bfc6cc" stroke-width=".7" stroke-opacity=".6" filter="url(#bt)"/>
<path d="M104.0 28.0 Q110.0 25.0 112.0 26.0 Q114.0 27.0 117.0 25.5 L120.0 24.0" fill="none" stroke="#6d78b8" stroke-width=".8" stroke-opacity=".8" filter="url(#bt)"/>
<g fill="#b4573f" font-size="3.4" font-family="Liberation Sans, sans-serif" fill-opacity=".8"><text x="148" y="58">Mawsynram</text><text x="172" y="61">Cherrapunji</text><text x="196" y="68">Dawki  Jowai</text><text x="140" y="37" font-size="3">Tura Baghmara</text><text x="126" y="7" font-size="3">Dhubri</text><text x="174" y="10" font-size="3">Barpeta</text></g>
<g fill="#e6e8e0" font-size="3.3" font-family="Liberation Sans, sans-serif" fill-opacity=".78"><text x="16" y="8">Jalpaiguri</text><text x="56" y="4">Alipurduar</text><text x="22" y="31">Panchagarh Sadar</text><text x="-2" y="56">Thakurgaon</text><text x="40" y="52">Nilphamari</text><text x="42" y="58">Rangpur</text><text x="28" y="64">Dinajpur</text><text x="64" y="89">Bogra</text><text x="40" y="96">Naogaon</text><text x="22" y="117">Chapai Nawabganj</text><text x="24" y="123">Rajshahi</text><text x="10" y="128">Baharampur</text><text x="36" y="136">Ishwardi</text><text x="114" y="44">Parbobazara</text><text x="110" y="56">East Garo Hills</text><text x="118" y="61">Tura Aps</text><text x="146" y="62">Meghalaya</text><text x="200" y="58">Shillong</text><text x="98" y="94">Mymensingh Division</text><text x="114" y="108">Kishoreganj</text><text x="122" y="113">Gazipur</text><text x="190" y="130">Moulvibazar</text><text x="136" y="137">Brahmanbaria</text><text x="206" y="44">Nongstoin</text><text x="148" y="33">Goalpara</text><text x="92" y="4">Kokrajhar</text><text x="78" y="78">Jamalpur</text><text x="224" y="84">Sylhet</text><text x="85" y="94">Sirajganj</text></g>
<g fill="#f4f4f0" fill-opacity=".9"><rect x="11.4" y="8.4" width="1.2" height="1.2"/><rect x="39.4" y="3.4" width="1.2" height="1.2"/><rect x="71.4" y="3.4" width="1.2" height="1.2"/><rect x="75.4" y="14.4" width="1.2" height="1.2"/><rect x="59.4" y="48.4" width="1.2" height="1.2"/><rect x="11.4" y="50.4" width="1.2" height="1.2"/><rect x="65.4" y="53.4" width="1.2" height="1.2"/><rect x="7.4" y="59.4" width="1.2" height="1.2"/><rect x="95.4" y="96.4" width="1.2" height="1.2"/><rect x="69.4" y="83.4" width="1.2" height="1.2"/><rect x="7.4" y="81.4" width="1.2" height="1.2"/><rect x="33.4" y="107.4" width="1.2" height="1.2"/><rect x="19.4" y="116.4" width="1.2" height="1.2"/><rect x="19.4" y="121.4" width="1.2" height="1.2"/><rect x="51.4" y="133.4" width="1.2" height="1.2"/><rect x="117.4" y="36.4" width="1.2" height="1.2"/><rect x="103.4" y="45.4" width="1.2" height="1.2"/><rect x="149.4" y="59.4" width="1.2" height="1.2"/><rect x="195.4" y="55.4" width="1.2" height="1.2"/><rect x="135.4" y="9.4" width="1.2" height="1.2"/><rect x="169.4" y="7.4" width="1.2" height="1.2"/><rect x="195.4" y="13.4" width="1.2" height="1.2"/><rect x="109.4" y="17.4" width="1.2" height="1.2"/><rect x="175.4" y="25.4" width="1.2" height="1.2"/><rect x="213.4" y="43.4" width="1.2" height="1.2"/><rect x="229.4" y="29.4" width="1.2" height="1.2"/><rect x="165.4" y="99.4" width="1.2" height="1.2"/><rect x="189.4" y="109.4" width="1.2" height="1.2"/><rect x="211.4" y="121.4" width="1.2" height="1.2"/><rect x="143.4" y="129.4" width="1.2" height="1.2"/><rect x="119.4" y="119.4" width="1.2" height="1.2"/><rect x="99.4" y="109.4" width="1.2" height="1.2"/><rect x="227.4" y="79.4" width="1.2" height="1.2"/><rect x="87.4" y="77.4" width="1.2" height="1.2"/><rect x="57.4" y="127.4" width="1.2" height="1.2"/><rect x="239.4" y="59.4" width="1.2" height="1.2"/><rect x="159.4" y="21.4" width="1.2" height="1.2"/><rect x="185.4" y="19.4" width="1.2" height="1.2"/><rect x="203.4" y="15.4" width="1.2" height="1.2"/><rect x="221.4" y="11.4" width="1.2" height="1.2"/><rect x="83.4" y="103.4" width="1.2" height="1.2"/><rect x="95.4" y="131.4" width="1.2" height="1.2"/></g>
<circle cx="84.3" cy="38.7" r="5.6" fill="#d0524a" fill-opacity=".9"/><path d="M84.3 38.7 L78.72 39.19 A5.6 5.6 0 0 1 85.56 33.24 Z" fill="#dcb935" fill-opacity=".95"/><circle cx="80.7" cy="65.6" r="5.7" fill="#d0524a" fill-opacity=".9"/><path d="M80.7 65.6 L76.03 68.87 A5.7 5.7 0 0 1 81.16 59.92 Z" fill="#dcb935" fill-opacity=".95"/><circle cx="91.2" cy="75.1" r="2.1" fill="#d0524a" fill-opacity=".9"/><path d="M91.2 75.1 L89.10 75.10 A2.1 2.1 0 0 1 92.90 73.87 Z" fill="#dcb935" fill-opacity=".95"/><circle cx="87.4" cy="124.5" r="4.4" fill="#d0524a" fill-opacity=".9"/><path d="M87.4 124.5 L83.07 125.26 A4.4 4.4 0 0 1 87.19 120.11 Z" fill="#dcb935" fill-opacity=".95"/><circle cx="144.8" cy="91.6" r="3.6" fill="#d0524a" fill-opacity=".9"/><path d="M144.8 91.6 L141.25 92.23 A3.6 3.6 0 0 1 145.30 88.04 Z" fill="#dcb935" fill-opacity=".95"/><circle cx="150.6" cy="112.9" r="5.6" fill="#d0524a" fill-opacity=".9"/><path d="M150.6 112.9 L145.34 114.82 A5.6 5.6 0 0 1 150.40 107.30 Z" fill="#dcb935" fill-opacity=".95"/><circle cx="160.9" cy="108.4" r="2.6" fill="#d0524a" fill-opacity=".9"/><path d="M160.9 108.4 L158.34 108.85 A2.6 2.6 0 0 1 163.20 107.18 Z" fill="#dcb935" fill-opacity=".95"/><circle cx="165.1" cy="77.1" r="1.4" fill="#d0524a" fill-opacity=".9"/><circle cx="232.7" cy="6.0" r="4.5" fill="#3c3f3a" fill-opacity=".85"/><path d="M229.9 6.0 H235.5 M232.7 3.2 V8.8" stroke="#e8e8e8" stroke-width="1.1"/><circle cx="232.7" cy="20.5" r="4.5" fill="#3c3f3a" fill-opacity=".85"/><path d="M229.9 20.5 H235.5" stroke="#e8e8e8" stroke-width="1.1"/>
</g>
</svg>

</body>
</html>
